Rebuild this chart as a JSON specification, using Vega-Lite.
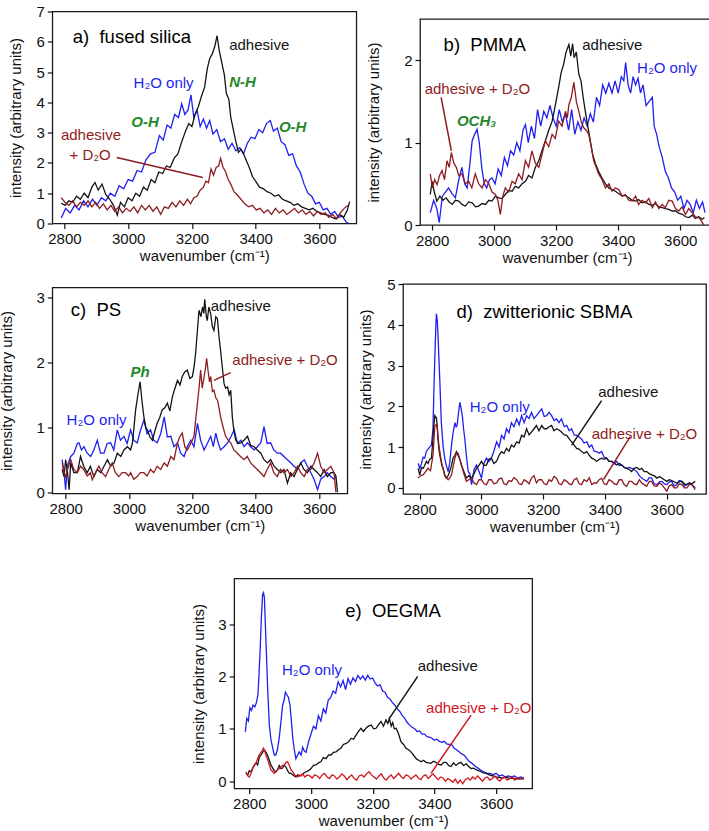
{
"$schema": "https://vega.github.io/schema/vega-lite/v6.json",
"background": "white",
"padding": {"left": -1, "top": 3.5, "right": 0, "bottom": 0},
"config": {
  "view": {"stroke": "#1a1a1a", "strokeWidth": 1.3},
  "axis": {"domain": false, "grid": false, "tickSize": 5, "tickColor": "#111", "tickWidth": 1.2, "labelFont": "Liberation Sans", "labelFontSize": 15, "labelColor": "#111", "labelPadding": 3, "titleFont": "Liberation Sans", "titleFontSize": 15, "titleFontWeight": "normal", "titleColor": "#111", "labelFlush": false, "labelOverlap": false, "format": "d"},
  "axisX": {"titlePadding": 2},
  "text": {"font": "Liberation Sans", "fontSize": 15, "align": "left", "baseline": "middle"}
},
"datasets": {
"T": [
{"p":"a","s":"T","t":"a)\u00a0\u00a0fused silica","x":2826,"y":6.16},
{"p":"a","s":"K","t":"adhesive","x":3317,"y":5.89},
{"p":"a","s":"B","t":"H₂O only","x":3017,"y":4.63},
{"p":"a","s":"G","t":"N-H","x":3317,"y":4.68},
{"p":"a","s":"G","t":"O-H","x":3010,"y":3.36},
{"p":"a","s":"G","t":"O-H","x":3473,"y":3.2},
{"p":"a","s":"R","t":"adhesive","x":2789,"y":2.92},
{"p":"a","s":"R","t":"+ D₂O","x":2816,"y":2.26},
{"p":"b","s":"T","t":"b)\u00a0\u00a0PMMA","x":2837,"y":2.19},
{"p":"b","s":"K","t":"adhesive","x":3284,"y":2.19},
{"p":"b","s":"B","t":"H₂O only","x":3461,"y":1.91},
{"p":"b","s":"R","t":"adhesive + D₂O","x":2776,"y":1.65},
{"p":"b","s":"G","t":"OCH₃","x":2880,"y":1.26},
{"p":"c","s":"T","t":"c)\u00a0\u00a0PS","x":2816,"y":2.8},
{"p":"c","s":"K","t":"adhesive","x":3258,"y":2.87},
{"p":"c","s":"R","t":"adhesive + D₂O","x":3326,"y":2.03},
{"p":"c","s":"G","t":"Ph","x":3005,"y":1.85},
{"p":"c","s":"B","t":"H₂O only","x":2803,"y":1.11},
{"p":"d","s":"T","t":"d)\u00a0\u00a0zwitterionic SBMA","x":2919,"y":4.31},
{"p":"d","s":"K","t":"adhesive","x":3378,"y":2.34},
{"p":"d","s":"B","t":"H₂O only","x":2962,"y":1.98},
{"p":"d","s":"R","t":"adhesive + D₂O","x":3357,"y":1.33},
{"p":"e","s":"T","t":"e)\u00a0\u00a0OEGMA","x":3111,"y":3.24},
{"p":"e","s":"B","t":"H₂O only","x":2906,"y":2.13},
{"p":"e","s":"K","t":"adhesive","x":3346,"y":2.19},
{"p":"e","s":"E","t":"adhesive + D₂O","x":3373,"y":1.39}
],
"R": [
{"p":"a","s":"R","x":2964,"y":2.18,"x2":3234,"y2":1.52},
{"p":"b","s":"R","x":2829,"y":1.55,"x2":2862,"y2":0.9},
{"p":"c","s":"R","x":3321,"y":1.84,"x2":3268,"y2":1.72},
{"p":"d","s":"K","x":3389,"y":2.14,"x2":3292,"y2":1.05},
{"p":"d","s":"R","x":3481,"y":1.25,"x2":3395,"y2":0.2},
{"p":"e","s":"K","x":3346,"y":2.0,"x2":3254,"y2":1.2},
{"p":"e","s":"E","x":3519,"y":1.26,"x2":3389,"y2":0.15}
],
"L": [
{"p":"a","s":"B","x":2790,"y":0.18},{"p":"a","s":"B","x":2804,"y":0.5},{"p":"a","s":"B","x":2818,"y":0.35},{"p":"a","s":"B","x":2832,"y":0.6},{"p":"a","s":"B","x":2846,"y":0.45},{"p":"a","s":"B","x":2860,"y":0.75},{"p":"a","s":"B","x":2874,"y":0.55},{"p":"a","s":"B","x":2888,"y":0.8},{"p":"a","s":"B","x":2902,"y":0.6},{"p":"a","s":"B","x":2916,"y":0.85},{"p":"a","s":"B","x":2930,"y":0.75},{"p":"a","s":"B","x":2944,"y":1.0},{"p":"a","s":"B","x":2958,"y":0.9},{"p":"a","s":"B","x":2972,"y":1.25},{"p":"a","s":"B","x":2986,"y":1.15},{"p":"a","s":"B","x":3000,"y":1.45},{"p":"a","s":"B","x":3014,"y":1.4},{"p":"a","s":"B","x":3028,"y":1.75},{"p":"a","s":"B","x":3042,"y":1.7},{"p":"a","s":"B","x":3056,"y":2.1},{"p":"a","s":"B","x":3070,"y":2.3},{"p":"a","s":"B","x":3084,"y":2.35},{"p":"a","s":"B","x":3098,"y":2.9},{"p":"a","s":"B","x":3110,"y":2.75},{"p":"a","s":"B","x":3122,"y":3.25},{"p":"a","s":"B","x":3134,"y":3.15},{"p":"a","s":"B","x":3146,"y":3.6},{"p":"a","s":"B","x":3158,"y":3.5},{"p":"a","s":"B","x":3168,"y":3.95},{"p":"a","s":"B","x":3178,"y":3.6},{"p":"a","s":"B","x":3188,"y":3.75},{"p":"a","s":"B","x":3197,"y":4.25},{"p":"a","s":"B","x":3206,"y":3.5},{"p":"a","s":"B","x":3216,"y":3.75},{"p":"a","s":"B","x":3226,"y":3.2},{"p":"a","s":"B","x":3236,"y":3.45},{"p":"a","s":"B","x":3246,"y":3.15},{"p":"a","s":"B","x":3256,"y":3.4},{"p":"a","s":"B","x":3266,"y":2.95},{"p":"a","s":"B","x":3278,"y":3.1},{"p":"a","s":"B","x":3290,"y":2.7},{"p":"a","s":"B","x":3302,"y":2.8},{"p":"a","s":"B","x":3314,"y":2.45},{"p":"a","s":"B","x":3326,"y":2.65},{"p":"a","s":"B","x":3338,"y":2.4},{"p":"a","s":"B","x":3350,"y":2.5},{"p":"a","s":"B","x":3362,"y":2.3},{"p":"a","s":"B","x":3374,"y":2.65},{"p":"a","s":"B","x":3386,"y":2.85},{"p":"a","s":"B","x":3398,"y":2.8},{"p":"a","s":"B","x":3410,"y":3.1},{"p":"a","s":"B","x":3422,"y":3.0},{"p":"a","s":"B","x":3434,"y":3.3},{"p":"a","s":"B","x":3446,"y":3.4},{"p":"a","s":"B","x":3456,"y":3.05},{"p":"a","s":"B","x":3468,"y":3.15},{"p":"a","s":"B","x":3480,"y":2.7},{"p":"a","s":"B","x":3492,"y":2.6},{"p":"a","s":"B","x":3504,"y":2.25},{"p":"a","s":"B","x":3516,"y":2.3},{"p":"a","s":"B","x":3528,"y":1.9},{"p":"a","s":"B","x":3540,"y":1.7},{"p":"a","s":"B","x":3552,"y":1.3},{"p":"a","s":"B","x":3564,"y":1.0},{"p":"a","s":"B","x":3576,"y":0.9},{"p":"a","s":"B","x":3588,"y":0.65},{"p":"a","s":"B","x":3600,"y":0.7},{"p":"a","s":"B","x":3612,"y":0.45},{"p":"a","s":"B","x":3624,"y":0.5},{"p":"a","s":"B","x":3636,"y":0.3},{"p":"a","s":"B","x":3648,"y":0.4},{"p":"a","s":"B","x":3660,"y":0.2},{"p":"a","s":"B","x":3672,"y":0.25},{"p":"a","s":"B","x":3684,"y":0.05},{"p":"a","s":"B","x":3692,"y":0.0},
{"p":"a","s":"K","x":2790,"y":0.67},{"p":"a","s":"K","x":2802,"y":0.6},{"p":"a","s":"K","x":2814,"y":0.75},{"p":"a","s":"K","x":2826,"y":0.7},{"p":"a","s":"K","x":2838,"y":0.9},{"p":"a","s":"K","x":2850,"y":0.8},{"p":"a","s":"K","x":2862,"y":1.0},{"p":"a","s":"K","x":2874,"y":0.85},{"p":"a","s":"K","x":2886,"y":1.2},{"p":"a","s":"K","x":2896,"y":1.35},{"p":"a","s":"K","x":2906,"y":1.1},{"p":"a","s":"K","x":2918,"y":1.3},{"p":"a","s":"K","x":2930,"y":0.95},{"p":"a","s":"K","x":2942,"y":0.8},{"p":"a","s":"K","x":2954,"y":0.6},{"p":"a","s":"K","x":2966,"y":0.28},{"p":"a","s":"K","x":2976,"y":0.7},{"p":"a","s":"K","x":2988,"y":0.55},{"p":"a","s":"K","x":3000,"y":0.85},{"p":"a","s":"K","x":3012,"y":0.75},{"p":"a","s":"K","x":3024,"y":1.0},{"p":"a","s":"K","x":3036,"y":0.9},{"p":"a","s":"K","x":3048,"y":1.2},{"p":"a","s":"K","x":3060,"y":1.1},{"p":"a","s":"K","x":3072,"y":1.45},{"p":"a","s":"K","x":3084,"y":1.35},{"p":"a","s":"K","x":3096,"y":1.7},{"p":"a","s":"K","x":3108,"y":1.65},{"p":"a","s":"K","x":3120,"y":1.9},{"p":"a","s":"K","x":3132,"y":1.85},{"p":"a","s":"K","x":3144,"y":2.15},{"p":"a","s":"K","x":3156,"y":2.3},{"p":"a","s":"K","x":3168,"y":2.7},{"p":"a","s":"K","x":3180,"y":3.05},{"p":"a","s":"K","x":3190,"y":3.3},{"p":"a","s":"K","x":3200,"y":3.2},{"p":"a","s":"K","x":3210,"y":3.6},{"p":"a","s":"K","x":3220,"y":3.85},{"p":"a","s":"K","x":3230,"y":4.2},{"p":"a","s":"K","x":3240,"y":4.5},{"p":"a","s":"K","x":3248,"y":5.1},{"p":"a","s":"K","x":3256,"y":5.45},{"p":"a","s":"K","x":3264,"y":5.6},{"p":"a","s":"K","x":3272,"y":5.85},{"p":"a","s":"K","x":3279,"y":6.2},{"p":"a","s":"K","x":3286,"y":5.7},{"p":"a","s":"K","x":3294,"y":5.3},{"p":"a","s":"K","x":3302,"y":4.9},{"p":"a","s":"K","x":3308,"y":4.3},{"p":"a","s":"K","x":3316,"y":4.1},{"p":"a","s":"K","x":3322,"y":3.5},{"p":"a","s":"K","x":3330,"y":3.1},{"p":"a","s":"K","x":3338,"y":2.7},{"p":"a","s":"K","x":3346,"y":2.35},{"p":"a","s":"K","x":3354,"y":2.45},{"p":"a","s":"K","x":3362,"y":2.3},{"p":"a","s":"K","x":3370,"y":2.1},{"p":"a","s":"K","x":3380,"y":1.85},{"p":"a","s":"K","x":3390,"y":1.55},{"p":"a","s":"K","x":3400,"y":1.4},{"p":"a","s":"K","x":3412,"y":1.2},{"p":"a","s":"K","x":3424,"y":1.15},{"p":"a","s":"K","x":3436,"y":1.05},{"p":"a","s":"K","x":3448,"y":1.0},{"p":"a","s":"K","x":3460,"y":0.9},{"p":"a","s":"K","x":3472,"y":0.95},{"p":"a","s":"K","x":3484,"y":0.8},{"p":"a","s":"K","x":3496,"y":0.75},{"p":"a","s":"K","x":3508,"y":0.7},{"p":"a","s":"K","x":3520,"y":0.6},{"p":"a","s":"K","x":3532,"y":0.65},{"p":"a","s":"K","x":3544,"y":0.55},{"p":"a","s":"K","x":3556,"y":0.5},{"p":"a","s":"K","x":3568,"y":0.45},{"p":"a","s":"K","x":3580,"y":0.5},{"p":"a","s":"K","x":3592,"y":0.4},{"p":"a","s":"K","x":3604,"y":0.35},{"p":"a","s":"K","x":3616,"y":0.3},{"p":"a","s":"K","x":3628,"y":0.28},{"p":"a","s":"K","x":3640,"y":0.2},{"p":"a","s":"K","x":3652,"y":0.15},{"p":"a","s":"K","x":3664,"y":0.3},{"p":"a","s":"K","x":3676,"y":0.2},{"p":"a","s":"K","x":3688,"y":0.45},{"p":"a","s":"K","x":3695,"y":0.72},
{"p":"a","s":"R","x":2790,"y":0.85},{"p":"a","s":"R","x":2802,"y":0.7},{"p":"a","s":"R","x":2814,"y":0.6},{"p":"a","s":"R","x":2826,"y":0.75},{"p":"a","s":"R","x":2838,"y":0.55},{"p":"a","s":"R","x":2850,"y":0.7},{"p":"a","s":"R","x":2862,"y":0.6},{"p":"a","s":"R","x":2874,"y":0.75},{"p":"a","s":"R","x":2886,"y":0.55},{"p":"a","s":"R","x":2898,"y":0.7},{"p":"a","s":"R","x":2910,"y":0.5},{"p":"a","s":"R","x":2922,"y":0.65},{"p":"a","s":"R","x":2934,"y":0.45},{"p":"a","s":"R","x":2946,"y":0.6},{"p":"a","s":"R","x":2958,"y":0.4},{"p":"a","s":"R","x":2970,"y":0.55},{"p":"a","s":"R","x":2982,"y":0.35},{"p":"a","s":"R","x":2994,"y":0.5},{"p":"a","s":"R","x":3006,"y":0.4},{"p":"a","s":"R","x":3018,"y":0.55},{"p":"a","s":"R","x":3030,"y":0.35},{"p":"a","s":"R","x":3042,"y":0.6},{"p":"a","s":"R","x":3054,"y":0.45},{"p":"a","s":"R","x":3066,"y":0.6},{"p":"a","s":"R","x":3078,"y":0.4},{"p":"a","s":"R","x":3090,"y":0.55},{"p":"a","s":"R","x":3102,"y":0.3},{"p":"a","s":"R","x":3114,"y":0.55},{"p":"a","s":"R","x":3126,"y":0.5},{"p":"a","s":"R","x":3138,"y":0.7},{"p":"a","s":"R","x":3150,"y":0.55},{"p":"a","s":"R","x":3162,"y":0.75},{"p":"a","s":"R","x":3174,"y":0.6},{"p":"a","s":"R","x":3186,"y":0.8},{"p":"a","s":"R","x":3196,"y":0.65},{"p":"a","s":"R","x":3206,"y":0.85},{"p":"a","s":"R","x":3216,"y":0.9},{"p":"a","s":"R","x":3226,"y":1.1},{"p":"a","s":"R","x":3236,"y":1.2},{"p":"a","s":"R","x":3244,"y":1.4},{"p":"a","s":"R","x":3252,"y":1.35},{"p":"a","s":"R","x":3260,"y":1.8},{"p":"a","s":"R","x":3268,"y":1.6},{"p":"a","s":"R","x":3276,"y":1.85},{"p":"a","s":"R","x":3284,"y":1.9},{"p":"a","s":"R","x":3290,"y":2.15},{"p":"a","s":"R","x":3298,"y":1.85},{"p":"a","s":"R","x":3306,"y":1.7},{"p":"a","s":"R","x":3314,"y":1.45},{"p":"a","s":"R","x":3322,"y":1.3},{"p":"a","s":"R","x":3332,"y":1.05},{"p":"a","s":"R","x":3342,"y":0.95},{"p":"a","s":"R","x":3354,"y":0.8},{"p":"a","s":"R","x":3366,"y":0.65},{"p":"a","s":"R","x":3378,"y":0.55},{"p":"a","s":"R","x":3390,"y":0.6},{"p":"a","s":"R","x":3402,"y":0.45},{"p":"a","s":"R","x":3414,"y":0.5},{"p":"a","s":"R","x":3426,"y":0.35},{"p":"a","s":"R","x":3438,"y":0.45},{"p":"a","s":"R","x":3450,"y":0.3},{"p":"a","s":"R","x":3462,"y":0.5},{"p":"a","s":"R","x":3474,"y":0.35},{"p":"a","s":"R","x":3486,"y":0.45},{"p":"a","s":"R","x":3498,"y":0.3},{"p":"a","s":"R","x":3510,"y":0.4},{"p":"a","s":"R","x":3522,"y":0.5},{"p":"a","s":"R","x":3534,"y":0.35},{"p":"a","s":"R","x":3546,"y":0.45},{"p":"a","s":"R","x":3558,"y":0.3},{"p":"a","s":"R","x":3570,"y":0.4},{"p":"a","s":"R","x":3582,"y":0.25},{"p":"a","s":"R","x":3594,"y":0.4},{"p":"a","s":"R","x":3606,"y":0.3},{"p":"a","s":"R","x":3618,"y":0.35},{"p":"a","s":"R","x":3630,"y":0.2},{"p":"a","s":"R","x":3642,"y":0.3},{"p":"a","s":"R","x":3654,"y":0.15},{"p":"a","s":"R","x":3666,"y":0.35},{"p":"a","s":"R","x":3678,"y":0.5},{"p":"a","s":"R","x":3690,"y":0.6},
{"p":"b","s":"B","x":2794,"y":0.15},{"p":"b","s":"B","x":2805,"y":0.3},{"p":"b","s":"B","x":2815,"y":0.2},{"p":"b","s":"B","x":2823,"y":0.03},{"p":"b","s":"B","x":2833,"y":0.35},{"p":"b","s":"B","x":2843,"y":0.4},{"p":"b","s":"B","x":2853,"y":0.45},{"p":"b","s":"B","x":2864,"y":0.38},{"p":"b","s":"B","x":2875,"y":0.33},{"p":"b","s":"B","x":2886,"y":0.55},{"p":"b","s":"B","x":2896,"y":0.7},{"p":"b","s":"B","x":2905,"y":0.5},{"p":"b","s":"B","x":2913,"y":0.45},{"p":"b","s":"B","x":2922,"y":0.75},{"p":"b","s":"B","x":2929,"y":1.02},{"p":"b","s":"B","x":2937,"y":1.1},{"p":"b","s":"B","x":2945,"y":1.16},{"p":"b","s":"B","x":2952,"y":1.0},{"p":"b","s":"B","x":2960,"y":0.7},{"p":"b","s":"B","x":2968,"y":0.5},{"p":"b","s":"B","x":2976,"y":0.45},{"p":"b","s":"B","x":2985,"y":0.55},{"p":"b","s":"B","x":2993,"y":0.57},{"p":"b","s":"B","x":3003,"y":0.5},{"p":"b","s":"B","x":3013,"y":0.68},{"p":"b","s":"B","x":3023,"y":0.6},{"p":"b","s":"B","x":3033,"y":0.82},{"p":"b","s":"B","x":3043,"y":0.72},{"p":"b","s":"B","x":3053,"y":0.9},{"p":"b","s":"B","x":3063,"y":0.85},{"p":"b","s":"B","x":3073,"y":1.0},{"p":"b","s":"B","x":3083,"y":0.9},{"p":"b","s":"B","x":3093,"y":1.15},{"p":"b","s":"B","x":3101,"y":1.22},{"p":"b","s":"B","x":3110,"y":1.0},{"p":"b","s":"B","x":3120,"y":1.2},{"p":"b","s":"B","x":3130,"y":1.05},{"p":"b","s":"B","x":3140,"y":1.4},{"p":"b","s":"B","x":3150,"y":1.2},{"p":"b","s":"B","x":3160,"y":1.38},{"p":"b","s":"B","x":3170,"y":1.3},{"p":"b","s":"B","x":3180,"y":1.45},{"p":"b","s":"B","x":3190,"y":1.3},{"p":"b","s":"B","x":3200,"y":1.2},{"p":"b","s":"B","x":3210,"y":1.4},{"p":"b","s":"B","x":3220,"y":1.25},{"p":"b","s":"B","x":3230,"y":1.35},{"p":"b","s":"B","x":3240,"y":1.15},{"p":"b","s":"B","x":3250,"y":1.4},{"p":"b","s":"B","x":3260,"y":1.1},{"p":"b","s":"B","x":3270,"y":1.25},{"p":"b","s":"B","x":3280,"y":1.15},{"p":"b","s":"B","x":3290,"y":1.3},{"p":"b","s":"B","x":3300,"y":1.2},{"p":"b","s":"B","x":3310,"y":1.35},{"p":"b","s":"B","x":3320,"y":1.25},{"p":"b","s":"B","x":3330,"y":1.55},{"p":"b","s":"B","x":3340,"y":1.45},{"p":"b","s":"B","x":3350,"y":1.7},{"p":"b","s":"B","x":3360,"y":1.6},{"p":"b","s":"B","x":3370,"y":1.72},{"p":"b","s":"B","x":3380,"y":1.6},{"p":"b","s":"B","x":3390,"y":1.75},{"p":"b","s":"B","x":3400,"y":1.6},{"p":"b","s":"B","x":3410,"y":1.8},{"p":"b","s":"B","x":3418,"y":1.75},{"p":"b","s":"B","x":3424,"y":1.97},{"p":"b","s":"B","x":3432,"y":1.7},{"p":"b","s":"B","x":3440,"y":1.6},{"p":"b","s":"B","x":3448,"y":1.8},{"p":"b","s":"B","x":3456,"y":1.7},{"p":"b","s":"B","x":3464,"y":1.78},{"p":"b","s":"B","x":3472,"y":1.6},{"p":"b","s":"B","x":3480,"y":1.7},{"p":"b","s":"B","x":3490,"y":1.45},{"p":"b","s":"B","x":3500,"y":1.5},{"p":"b","s":"B","x":3510,"y":1.55},{"p":"b","s":"B","x":3516,"y":1.2},{"p":"b","s":"B","x":3524,"y":1.1},{"p":"b","s":"B","x":3532,"y":0.95},{"p":"b","s":"B","x":3542,"y":0.82},{"p":"b","s":"B","x":3552,"y":0.65},{"p":"b","s":"B","x":3562,"y":0.57},{"p":"b","s":"B","x":3572,"y":0.45},{"p":"b","s":"B","x":3582,"y":0.4},{"p":"b","s":"B","x":3592,"y":0.3},{"p":"b","s":"B","x":3602,"y":0.35},{"p":"b","s":"B","x":3612,"y":0.2},{"p":"b","s":"B","x":3622,"y":0.3},{"p":"b","s":"B","x":3632,"y":0.25},{"p":"b","s":"B","x":3642,"y":0.15},{"p":"b","s":"B","x":3652,"y":0.3},{"p":"b","s":"B","x":3662,"y":0.2},{"p":"b","s":"B","x":3672,"y":0.28},{"p":"b","s":"B","x":3680,"y":0.15},
{"p":"b","s":"K","x":2794,"y":0.37},{"p":"b","s":"K","x":2800,"y":0.53},{"p":"b","s":"K","x":2807,"y":0.4},{"p":"b","s":"K","x":2815,"y":0.29},{"p":"b","s":"K","x":2825,"y":0.35},{"p":"b","s":"K","x":2835,"y":0.3},{"p":"b","s":"K","x":2845,"y":0.33},{"p":"b","s":"K","x":2855,"y":0.28},{"p":"b","s":"K","x":2865,"y":0.25},{"p":"b","s":"K","x":2875,"y":0.3},{"p":"b","s":"K","x":2886,"y":0.29},{"p":"b","s":"K","x":2896,"y":0.25},{"p":"b","s":"K","x":2907,"y":0.23},{"p":"b","s":"K","x":2918,"y":0.28},{"p":"b","s":"K","x":2929,"y":0.27},{"p":"b","s":"K","x":2940,"y":0.22},{"p":"b","s":"K","x":2950,"y":0.23},{"p":"b","s":"K","x":2961,"y":0.26},{"p":"b","s":"K","x":2972,"y":0.25},{"p":"b","s":"K","x":2983,"y":0.3},{"p":"b","s":"K","x":2993,"y":0.29},{"p":"b","s":"K","x":3004,"y":0.35},{"p":"b","s":"K","x":3015,"y":0.33},{"p":"b","s":"K","x":3025,"y":0.32},{"p":"b","s":"K","x":3036,"y":0.37},{"p":"b","s":"K","x":3047,"y":0.42},{"p":"b","s":"K","x":3058,"y":0.41},{"p":"b","s":"K","x":3068,"y":0.47},{"p":"b","s":"K","x":3079,"y":0.45},{"p":"b","s":"K","x":3090,"y":0.5},{"p":"b","s":"K","x":3101,"y":0.53},{"p":"b","s":"K","x":3111,"y":0.6},{"p":"b","s":"K","x":3122,"y":0.57},{"p":"b","s":"K","x":3133,"y":0.7},{"p":"b","s":"K","x":3144,"y":0.78},{"p":"b","s":"K","x":3154,"y":0.9},{"p":"b","s":"K","x":3165,"y":1.02},{"p":"b","s":"K","x":3176,"y":1.15},{"p":"b","s":"K","x":3187,"y":1.26},{"p":"b","s":"K","x":3197,"y":1.45},{"p":"b","s":"K","x":3208,"y":1.67},{"p":"b","s":"K","x":3216,"y":1.85},{"p":"b","s":"K","x":3224,"y":1.95},{"p":"b","s":"K","x":3232,"y":2.1},{"p":"b","s":"K","x":3241,"y":2.19},{"p":"b","s":"K","x":3247,"y":2.05},{"p":"b","s":"K","x":3253,"y":2.2},{"p":"b","s":"K","x":3258,"y":2.03},{"p":"b","s":"K","x":3265,"y":2.1},{"p":"b","s":"K","x":3273,"y":1.83},{"p":"b","s":"K","x":3280,"y":1.75},{"p":"b","s":"K","x":3287,"y":1.55},{"p":"b","s":"K","x":3294,"y":1.38},{"p":"b","s":"K","x":3302,"y":1.2},{"p":"b","s":"K","x":3310,"y":1.02},{"p":"b","s":"K","x":3318,"y":0.85},{"p":"b","s":"K","x":3327,"y":0.74},{"p":"b","s":"K","x":3337,"y":0.65},{"p":"b","s":"K","x":3348,"y":0.57},{"p":"b","s":"K","x":3359,"y":0.5},{"p":"b","s":"K","x":3370,"y":0.45},{"p":"b","s":"K","x":3380,"y":0.43},{"p":"b","s":"K","x":3391,"y":0.41},{"p":"b","s":"K","x":3402,"y":0.38},{"p":"b","s":"K","x":3413,"y":0.35},{"p":"b","s":"K","x":3423,"y":0.36},{"p":"b","s":"K","x":3434,"y":0.33},{"p":"b","s":"K","x":3445,"y":0.3},{"p":"b","s":"K","x":3456,"y":0.29},{"p":"b","s":"K","x":3466,"y":0.31},{"p":"b","s":"K","x":3477,"y":0.27},{"p":"b","s":"K","x":3488,"y":0.28},{"p":"b","s":"K","x":3499,"y":0.25},{"p":"b","s":"K","x":3510,"y":0.24},{"p":"b","s":"K","x":3520,"y":0.26},{"p":"b","s":"K","x":3531,"y":0.22},{"p":"b","s":"K","x":3542,"y":0.21},{"p":"b","s":"K","x":3552,"y":0.2},{"p":"b","s":"K","x":3563,"y":0.19},{"p":"b","s":"K","x":3574,"y":0.17},{"p":"b","s":"K","x":3585,"y":0.17},{"p":"b","s":"K","x":3596,"y":0.14},{"p":"b","s":"K","x":3607,"y":0.13},{"p":"b","s":"K","x":3617,"y":0.1},{"p":"b","s":"K","x":3628,"y":0.09},{"p":"b","s":"K","x":3639,"y":0.12},{"p":"b","s":"K","x":3649,"y":0.08},{"p":"b","s":"K","x":3660,"y":0.1},{"p":"b","s":"K","x":3671,"y":0.07},{"p":"b","s":"K","x":3678,"y":0.09},
{"p":"b","s":"R","x":2794,"y":0.62},{"p":"b","s":"R","x":2801,"y":0.45},{"p":"b","s":"R","x":2808,"y":0.55},{"p":"b","s":"R","x":2816,"y":0.49},{"p":"b","s":"R","x":2824,"y":0.6},{"p":"b","s":"R","x":2832,"y":0.66},{"p":"b","s":"R","x":2840,"y":0.55},{"p":"b","s":"R","x":2848,"y":0.78},{"p":"b","s":"R","x":2855,"y":0.7},{"p":"b","s":"R","x":2862,"y":0.88},{"p":"b","s":"R","x":2870,"y":0.75},{"p":"b","s":"R","x":2878,"y":0.7},{"p":"b","s":"R","x":2886,"y":0.6},{"p":"b","s":"R","x":2896,"y":0.62},{"p":"b","s":"R","x":2907,"y":0.5},{"p":"b","s":"R","x":2918,"y":0.53},{"p":"b","s":"R","x":2928,"y":0.45},{"p":"b","s":"R","x":2939,"y":0.62},{"p":"b","s":"R","x":2950,"y":0.5},{"p":"b","s":"R","x":2961,"y":0.45},{"p":"b","s":"R","x":2972,"y":0.55},{"p":"b","s":"R","x":2983,"y":0.5},{"p":"b","s":"R","x":2993,"y":0.4},{"p":"b","s":"R","x":3004,"y":0.37},{"p":"b","s":"R","x":3012,"y":0.3},{"p":"b","s":"R","x":3020,"y":0.13},{"p":"b","s":"R","x":3028,"y":0.35},{"p":"b","s":"R","x":3036,"y":0.45},{"p":"b","s":"R","x":3047,"y":0.4},{"p":"b","s":"R","x":3058,"y":0.53},{"p":"b","s":"R","x":3068,"y":0.5},{"p":"b","s":"R","x":3079,"y":0.62},{"p":"b","s":"R","x":3090,"y":0.55},{"p":"b","s":"R","x":3101,"y":0.78},{"p":"b","s":"R","x":3111,"y":0.7},{"p":"b","s":"R","x":3122,"y":0.9},{"p":"b","s":"R","x":3133,"y":0.75},{"p":"b","s":"R","x":3144,"y":0.7},{"p":"b","s":"R","x":3154,"y":0.85},{"p":"b","s":"R","x":3165,"y":1.02},{"p":"b","s":"R","x":3176,"y":0.95},{"p":"b","s":"R","x":3187,"y":1.1},{"p":"b","s":"R","x":3197,"y":1.05},{"p":"b","s":"R","x":3208,"y":1.26},{"p":"b","s":"R","x":3219,"y":1.2},{"p":"b","s":"R","x":3230,"y":1.38},{"p":"b","s":"R","x":3236,"y":1.3},{"p":"b","s":"R","x":3241,"y":1.46},{"p":"b","s":"R","x":3249,"y":1.55},{"p":"b","s":"R","x":3257,"y":1.73},{"p":"b","s":"R","x":3265,"y":1.5},{"p":"b","s":"R","x":3273,"y":1.38},{"p":"b","s":"R","x":3281,"y":1.25},{"p":"b","s":"R","x":3289,"y":1.18},{"p":"b","s":"R","x":3297,"y":1.15},{"p":"b","s":"R","x":3305,"y":1.1},{"p":"b","s":"R","x":3313,"y":0.95},{"p":"b","s":"R","x":3321,"y":0.78},{"p":"b","s":"R","x":3329,"y":0.7},{"p":"b","s":"R","x":3337,"y":0.62},{"p":"b","s":"R","x":3348,"y":0.55},{"p":"b","s":"R","x":3359,"y":0.45},{"p":"b","s":"R","x":3370,"y":0.5},{"p":"b","s":"R","x":3380,"y":0.41},{"p":"b","s":"R","x":3391,"y":0.45},{"p":"b","s":"R","x":3402,"y":0.43},{"p":"b","s":"R","x":3413,"y":0.35},{"p":"b","s":"R","x":3423,"y":0.37},{"p":"b","s":"R","x":3434,"y":0.3},{"p":"b","s":"R","x":3445,"y":0.29},{"p":"b","s":"R","x":3456,"y":0.35},{"p":"b","s":"R","x":3466,"y":0.25},{"p":"b","s":"R","x":3477,"y":0.3},{"p":"b","s":"R","x":3488,"y":0.27},{"p":"b","s":"R","x":3499,"y":0.32},{"p":"b","s":"R","x":3510,"y":0.21},{"p":"b","s":"R","x":3520,"y":0.28},{"p":"b","s":"R","x":3531,"y":0.2},{"p":"b","s":"R","x":3542,"y":0.25},{"p":"b","s":"R","x":3552,"y":0.21},{"p":"b","s":"R","x":3563,"y":0.3},{"p":"b","s":"R","x":3574,"y":0.29},{"p":"b","s":"R","x":3585,"y":0.2},{"p":"b","s":"R","x":3595,"y":0.17},{"p":"b","s":"R","x":3606,"y":0.22},{"p":"b","s":"R","x":3617,"y":0.13},{"p":"b","s":"R","x":3628,"y":0.2},{"p":"b","s":"R","x":3638,"y":0.15},{"p":"b","s":"R","x":3649,"y":0.1},{"p":"b","s":"R","x":3660,"y":0.09},{"p":"b","s":"R","x":3668,"y":0.05},{"p":"b","s":"R","x":3676,"y":0.0},
{"p":"c","s":"B","x":2789,"y":0.5},{"p":"c","s":"B","x":2795,"y":0.3},{"p":"c","s":"B","x":2800,"y":0.04},{"p":"c","s":"B","x":2805,"y":0.4},{"p":"c","s":"B","x":2816,"y":0.55},{"p":"c","s":"B","x":2826,"y":0.6},{"p":"c","s":"B","x":2837,"y":0.75},{"p":"c","s":"B","x":2842,"y":0.76},{"p":"c","s":"B","x":2850,"y":0.65},{"p":"c","s":"B","x":2858,"y":0.7},{"p":"c","s":"B","x":2868,"y":0.6},{"p":"c","s":"B","x":2879,"y":0.55},{"p":"c","s":"B","x":2889,"y":0.65},{"p":"c","s":"B","x":2900,"y":0.8},{"p":"c","s":"B","x":2910,"y":0.6},{"p":"c","s":"B","x":2921,"y":0.6},{"p":"c","s":"B","x":2931,"y":0.75},{"p":"c","s":"B","x":2942,"y":0.76},{"p":"c","s":"B","x":2952,"y":0.65},{"p":"c","s":"B","x":2963,"y":0.96},{"p":"c","s":"B","x":2973,"y":0.8},{"p":"c","s":"B","x":2984,"y":0.86},{"p":"c","s":"B","x":2994,"y":0.75},{"p":"c","s":"B","x":3005,"y":0.96},{"p":"c","s":"B","x":3015,"y":0.8},{"p":"c","s":"B","x":3026,"y":0.76},{"p":"c","s":"B","x":3036,"y":0.95},{"p":"c","s":"B","x":3047,"y":1.11},{"p":"c","s":"B","x":3057,"y":0.9},{"p":"c","s":"B","x":3068,"y":0.96},{"p":"c","s":"B","x":3078,"y":0.8},{"p":"c","s":"B","x":3089,"y":0.76},{"p":"c","s":"B","x":3100,"y":0.9},{"p":"c","s":"B","x":3111,"y":1.16},{"p":"c","s":"B","x":3121,"y":0.85},{"p":"c","s":"B","x":3132,"y":0.86},{"p":"c","s":"B","x":3142,"y":0.7},{"p":"c","s":"B","x":3153,"y":0.76},{"p":"c","s":"B","x":3163,"y":0.6},{"p":"c","s":"B","x":3174,"y":0.55},{"p":"c","s":"B","x":3184,"y":0.7},{"p":"c","s":"B","x":3195,"y":0.8},{"p":"c","s":"B","x":3205,"y":0.7},{"p":"c","s":"B","x":3216,"y":1.06},{"p":"c","s":"B","x":3226,"y":0.8},{"p":"c","s":"B","x":3237,"y":0.65},{"p":"c","s":"B","x":3247,"y":0.75},{"p":"c","s":"B","x":3258,"y":0.86},{"p":"c","s":"B","x":3266,"y":0.7},{"p":"c","s":"B","x":3274,"y":0.91},{"p":"c","s":"B","x":3282,"y":0.75},{"p":"c","s":"B","x":3289,"y":0.65},{"p":"c","s":"B","x":3300,"y":0.7},{"p":"c","s":"B","x":3311,"y":0.76},{"p":"c","s":"B","x":3321,"y":0.85},{"p":"c","s":"B","x":3332,"y":0.96},{"p":"c","s":"B","x":3342,"y":0.75},{"p":"c","s":"B","x":3353,"y":0.8},{"p":"c","s":"B","x":3363,"y":0.7},{"p":"c","s":"B","x":3374,"y":0.76},{"p":"c","s":"B","x":3384,"y":0.7},{"p":"c","s":"B","x":3395,"y":0.65},{"p":"c","s":"B","x":3405,"y":0.7},{"p":"c","s":"B","x":3416,"y":0.76},{"p":"c","s":"B","x":3426,"y":1.01},{"p":"c","s":"B","x":3436,"y":0.75},{"p":"c","s":"B","x":3447,"y":0.76},{"p":"c","s":"B","x":3457,"y":0.65},{"p":"c","s":"B","x":3468,"y":0.6},{"p":"c","s":"B","x":3478,"y":0.6},{"p":"c","s":"B","x":3489,"y":0.55},{"p":"c","s":"B","x":3500,"y":0.5},{"p":"c","s":"B","x":3511,"y":0.45},{"p":"c","s":"B","x":3521,"y":0.4},{"p":"c","s":"B","x":3532,"y":0.35},{"p":"c","s":"B","x":3542,"y":0.45},{"p":"c","s":"B","x":3553,"y":0.5},{"p":"c","s":"B","x":3563,"y":0.4},{"p":"c","s":"B","x":3574,"y":0.3},{"p":"c","s":"B","x":3584,"y":0.2},{"p":"c","s":"B","x":3595,"y":0.04},{"p":"c","s":"B","x":3605,"y":0.2},{"p":"c","s":"B","x":3616,"y":0.24},{"p":"c","s":"B","x":3626,"y":0.3},{"p":"c","s":"B","x":3637,"y":0.24},{"p":"c","s":"B","x":3647,"y":0.2},{"p":"c","s":"B","x":3653,"y":0.24},
{"p":"c","s":"K","x":2789,"y":0.35},{"p":"c","s":"K","x":2795,"y":0.24},{"p":"c","s":"K","x":2800,"y":0.5},{"p":"c","s":"K","x":2806,"y":0.3},{"p":"c","s":"K","x":2811,"y":0.04},{"p":"c","s":"K","x":2816,"y":0.45},{"p":"c","s":"K","x":2826,"y":0.3},{"p":"c","s":"K","x":2837,"y":0.3},{"p":"c","s":"K","x":2847,"y":0.55},{"p":"c","s":"K","x":2857,"y":0.4},{"p":"c","s":"K","x":2868,"y":0.3},{"p":"c","s":"K","x":2878,"y":0.4},{"p":"c","s":"K","x":2889,"y":0.24},{"p":"c","s":"K","x":2900,"y":0.35},{"p":"c","s":"K","x":2911,"y":0.3},{"p":"c","s":"K","x":2921,"y":0.4},{"p":"c","s":"K","x":2932,"y":0.5},{"p":"c","s":"K","x":2942,"y":0.4},{"p":"c","s":"K","x":2953,"y":0.45},{"p":"c","s":"K","x":2963,"y":0.6},{"p":"c","s":"K","x":2974,"y":0.55},{"p":"c","s":"K","x":2984,"y":0.65},{"p":"c","s":"K","x":2995,"y":0.7},{"p":"c","s":"K","x":3005,"y":0.65},{"p":"c","s":"K","x":3011,"y":0.76},{"p":"c","s":"K","x":3021,"y":1.27},{"p":"c","s":"K","x":3028,"y":1.5},{"p":"c","s":"K","x":3035,"y":1.7},{"p":"c","s":"K","x":3041,"y":1.4},{"p":"c","s":"K","x":3047,"y":1.16},{"p":"c","s":"K","x":3053,"y":1.0},{"p":"c","s":"K","x":3058,"y":0.96},{"p":"c","s":"K","x":3066,"y":0.85},{"p":"c","s":"K","x":3074,"y":0.8},{"p":"c","s":"K","x":3082,"y":0.95},{"p":"c","s":"K","x":3089,"y":1.06},{"p":"c","s":"K","x":3097,"y":1.15},{"p":"c","s":"K","x":3105,"y":1.27},{"p":"c","s":"K","x":3113,"y":1.3},{"p":"c","s":"K","x":3121,"y":1.37},{"p":"c","s":"K","x":3129,"y":1.25},{"p":"c","s":"K","x":3137,"y":1.47},{"p":"c","s":"K","x":3145,"y":1.6},{"p":"c","s":"K","x":3153,"y":1.72},{"p":"c","s":"K","x":3161,"y":1.65},{"p":"c","s":"K","x":3168,"y":1.78},{"p":"c","s":"K","x":3176,"y":1.85},{"p":"c","s":"K","x":3184,"y":1.88},{"p":"c","s":"K","x":3192,"y":1.75},{"p":"c","s":"K","x":3200,"y":1.78},{"p":"c","s":"K","x":3206,"y":1.95},{"p":"c","s":"K","x":3211,"y":2.18},{"p":"c","s":"K","x":3216,"y":2.5},{"p":"c","s":"K","x":3221,"y":2.8},{"p":"c","s":"K","x":3227,"y":2.7},{"p":"c","s":"K","x":3232,"y":2.85},{"p":"c","s":"K","x":3236,"y":2.75},{"p":"c","s":"K","x":3239,"y":2.97},{"p":"c","s":"K","x":3244,"y":2.7},{"p":"c","s":"K","x":3247,"y":2.64},{"p":"c","s":"K","x":3252,"y":2.85},{"p":"c","s":"K","x":3258,"y":2.74},{"p":"c","s":"K","x":3263,"y":2.55},{"p":"c","s":"K","x":3268,"y":2.49},{"p":"c","s":"K","x":3274,"y":2.7},{"p":"c","s":"K","x":3279,"y":2.67},{"p":"c","s":"K","x":3284,"y":2.4},{"p":"c","s":"K","x":3289,"y":2.18},{"p":"c","s":"K","x":3295,"y":1.9},{"p":"c","s":"K","x":3300,"y":1.67},{"p":"c","s":"K","x":3305,"y":1.6},{"p":"c","s":"K","x":3311,"y":1.62},{"p":"c","s":"K","x":3316,"y":1.5},{"p":"c","s":"K","x":3321,"y":1.57},{"p":"c","s":"K","x":3326,"y":1.16},{"p":"c","s":"K","x":3331,"y":0.95},{"p":"c","s":"K","x":3337,"y":0.8},{"p":"c","s":"K","x":3345,"y":0.75},{"p":"c","s":"K","x":3353,"y":0.76},{"p":"c","s":"K","x":3363,"y":0.8},{"p":"c","s":"K","x":3374,"y":0.86},{"p":"c","s":"K","x":3384,"y":0.72},{"p":"c","s":"K","x":3395,"y":0.7},{"p":"c","s":"K","x":3405,"y":0.65},{"p":"c","s":"K","x":3416,"y":0.6},{"p":"c","s":"K","x":3426,"y":0.5},{"p":"c","s":"K","x":3437,"y":0.45},{"p":"c","s":"K","x":3447,"y":0.5},{"p":"c","s":"K","x":3458,"y":0.4},{"p":"c","s":"K","x":3468,"y":0.35},{"p":"c","s":"K","x":3479,"y":0.3},{"p":"c","s":"K","x":3489,"y":0.35},{"p":"c","s":"K","x":3500,"y":0.14},{"p":"c","s":"K","x":3510,"y":0.3},{"p":"c","s":"K","x":3521,"y":0.24},{"p":"c","s":"K","x":3531,"y":0.35},{"p":"c","s":"K","x":3542,"y":0.45},{"p":"c","s":"K","x":3552,"y":0.35},{"p":"c","s":"K","x":3563,"y":0.3},{"p":"c","s":"K","x":3574,"y":0.4},{"p":"c","s":"K","x":3584,"y":0.35},{"p":"c","s":"K","x":3595,"y":0.3},{"p":"c","s":"K","x":3605,"y":0.24},{"p":"c","s":"K","x":3616,"y":0.35},{"p":"c","s":"K","x":3626,"y":0.24},{"p":"c","s":"K","x":3637,"y":0.3},{"p":"c","s":"K","x":3647,"y":0.3},{"p":"c","s":"K","x":3653,"y":0.25},{"p":"c","s":"K","x":3658,"y":0.0},
{"p":"c","s":"R","x":2789,"y":0.45},{"p":"c","s":"R","x":2795,"y":0.3},{"p":"c","s":"R","x":2800,"y":0.24},{"p":"c","s":"R","x":2806,"y":0.35},{"p":"c","s":"R","x":2816,"y":0.5},{"p":"c","s":"R","x":2826,"y":0.35},{"p":"c","s":"R","x":2837,"y":0.3},{"p":"c","s":"R","x":2847,"y":0.4},{"p":"c","s":"R","x":2857,"y":0.35},{"p":"c","s":"R","x":2868,"y":0.25},{"p":"c","s":"R","x":2878,"y":0.3},{"p":"c","s":"R","x":2884,"y":0.19},{"p":"c","s":"R","x":2894,"y":0.3},{"p":"c","s":"R","x":2905,"y":0.4},{"p":"c","s":"R","x":2915,"y":0.3},{"p":"c","s":"R","x":2926,"y":0.24},{"p":"c","s":"R","x":2936,"y":0.35},{"p":"c","s":"R","x":2947,"y":0.45},{"p":"c","s":"R","x":2957,"y":0.3},{"p":"c","s":"R","x":2968,"y":0.24},{"p":"c","s":"R","x":2978,"y":0.3},{"p":"c","s":"R","x":2989,"y":0.3},{"p":"c","s":"R","x":2999,"y":0.25},{"p":"c","s":"R","x":3005,"y":0.3},{"p":"c","s":"R","x":3015,"y":0.2},{"p":"c","s":"R","x":3026,"y":0.24},{"p":"c","s":"R","x":3036,"y":0.3},{"p":"c","s":"R","x":3047,"y":0.3},{"p":"c","s":"R","x":3057,"y":0.25},{"p":"c","s":"R","x":3068,"y":0.35},{"p":"c","s":"R","x":3078,"y":0.3},{"p":"c","s":"R","x":3089,"y":0.4},{"p":"c","s":"R","x":3100,"y":0.35},{"p":"c","s":"R","x":3111,"y":0.45},{"p":"c","s":"R","x":3121,"y":0.4},{"p":"c","s":"R","x":3132,"y":0.55},{"p":"c","s":"R","x":3142,"y":0.5},{"p":"c","s":"R","x":3153,"y":0.76},{"p":"c","s":"R","x":3160,"y":0.85},{"p":"c","s":"R","x":3168,"y":0.91},{"p":"c","s":"R","x":3176,"y":0.7},{"p":"c","s":"R","x":3184,"y":0.65},{"p":"c","s":"R","x":3195,"y":0.75},{"p":"c","s":"R","x":3205,"y":0.86},{"p":"c","s":"R","x":3210,"y":1.1},{"p":"c","s":"R","x":3216,"y":1.37},{"p":"c","s":"R","x":3221,"y":1.6},{"p":"c","s":"R","x":3226,"y":1.88},{"p":"c","s":"R","x":3231,"y":1.6},{"p":"c","s":"R","x":3237,"y":1.78},{"p":"c","s":"R","x":3241,"y":1.9},{"p":"c","s":"R","x":3245,"y":2.06},{"p":"c","s":"R","x":3250,"y":1.85},{"p":"c","s":"R","x":3254,"y":1.7},{"p":"c","s":"R","x":3258,"y":1.78},{"p":"c","s":"R","x":3263,"y":1.55},{"p":"c","s":"R","x":3268,"y":1.57},{"p":"c","s":"R","x":3274,"y":1.45},{"p":"c","s":"R","x":3279,"y":1.42},{"p":"c","s":"R","x":3284,"y":1.3},{"p":"c","s":"R","x":3289,"y":1.16},{"p":"c","s":"R","x":3297,"y":1.0},{"p":"c","s":"R","x":3305,"y":0.86},{"p":"c","s":"R","x":3313,"y":0.8},{"p":"c","s":"R","x":3321,"y":0.76},{"p":"c","s":"R","x":3331,"y":0.65},{"p":"c","s":"R","x":3342,"y":0.6},{"p":"c","s":"R","x":3352,"y":0.55},{"p":"c","s":"R","x":3363,"y":0.5},{"p":"c","s":"R","x":3373,"y":0.55},{"p":"c","s":"R","x":3384,"y":0.45},{"p":"c","s":"R","x":3394,"y":0.4},{"p":"c","s":"R","x":3405,"y":0.35},{"p":"c","s":"R","x":3415,"y":0.3},{"p":"c","s":"R","x":3426,"y":0.24},{"p":"c","s":"R","x":3436,"y":0.35},{"p":"c","s":"R","x":3447,"y":0.45},{"p":"c","s":"R","x":3457,"y":0.3},{"p":"c","s":"R","x":3468,"y":0.24},{"p":"c","s":"R","x":3478,"y":0.35},{"p":"c","s":"R","x":3489,"y":0.3},{"p":"c","s":"R","x":3500,"y":0.35},{"p":"c","s":"R","x":3511,"y":0.24},{"p":"c","s":"R","x":3521,"y":0.3},{"p":"c","s":"R","x":3532,"y":0.4},{"p":"c","s":"R","x":3542,"y":0.3},{"p":"c","s":"R","x":3553,"y":0.24},{"p":"c","s":"R","x":3563,"y":0.35},{"p":"c","s":"R","x":3574,"y":0.35},{"p":"c","s":"R","x":3584,"y":0.45},{"p":"c","s":"R","x":3595,"y":0.6},{"p":"c","s":"R","x":3605,"y":0.4},{"p":"c","s":"R","x":3616,"y":0.3},{"p":"c","s":"R","x":3626,"y":0.35},{"p":"c","s":"R","x":3637,"y":0.4},{"p":"c","s":"R","x":3647,"y":0.3},{"p":"c","s":"R","x":3653,"y":0.0},
{"p":"d","s":"B","x":2795,"y":0.6},{"p":"d","s":"B","x":2800,"y":0.48},{"p":"d","s":"B","x":2806,"y":0.6},{"p":"d","s":"B","x":2811,"y":0.75},{"p":"d","s":"B","x":2816,"y":0.73},{"p":"d","s":"B","x":2822,"y":0.9},{"p":"d","s":"B","x":2827,"y":0.95},{"p":"d","s":"B","x":2832,"y":1.0},{"p":"d","s":"B","x":2838,"y":1.05},{"p":"d","s":"B","x":2843,"y":1.45},{"p":"d","s":"B","x":2846,"y":2.4},{"p":"d","s":"B","x":2849,"y":3.2},{"p":"d","s":"B","x":2852,"y":3.9},{"p":"d","s":"B","x":2854,"y":4.27},{"p":"d","s":"B","x":2857,"y":4.1},{"p":"d","s":"B","x":2859,"y":3.8},{"p":"d","s":"B","x":2862,"y":3.2},{"p":"d","s":"B","x":2865,"y":2.66},{"p":"d","s":"B","x":2870,"y":1.6},{"p":"d","s":"B","x":2876,"y":1.0},{"p":"d","s":"B","x":2881,"y":0.73},{"p":"d","s":"B","x":2886,"y":0.55},{"p":"d","s":"B","x":2892,"y":0.4},{"p":"d","s":"B","x":2897,"y":0.6},{"p":"d","s":"B","x":2903,"y":1.05},{"p":"d","s":"B","x":2908,"y":1.35},{"p":"d","s":"B","x":2914,"y":1.6},{"p":"d","s":"B","x":2918,"y":1.5},{"p":"d","s":"B","x":2921,"y":1.53},{"p":"d","s":"B","x":2925,"y":1.8},{"p":"d","s":"B","x":2930,"y":2.1},{"p":"d","s":"B","x":2934,"y":1.95},{"p":"d","s":"B","x":2938,"y":1.77},{"p":"d","s":"B","x":2942,"y":1.45},{"p":"d","s":"B","x":2946,"y":1.2},{"p":"d","s":"B","x":2951,"y":0.8},{"p":"d","s":"B","x":2957,"y":0.4},{"p":"d","s":"B","x":2962,"y":0.35},{"p":"d","s":"B","x":2968,"y":0.08},{"p":"d","s":"B","x":2976,"y":0.45},{"p":"d","s":"B","x":2984,"y":0.56},{"p":"d","s":"B","x":2992,"y":0.4},{"p":"d","s":"B","x":3000,"y":0.24},{"p":"d","s":"B","x":3008,"y":0.6},{"p":"d","s":"B","x":3016,"y":0.73},{"p":"d","s":"B","x":3024,"y":0.65},{"p":"d","s":"B","x":3032,"y":0.73},{"p":"d","s":"B","x":3040,"y":0.9},{"p":"d","s":"B","x":3049,"y":1.13},{"p":"d","s":"B","x":3057,"y":1.0},{"p":"d","s":"B","x":3065,"y":1.29},{"p":"d","s":"B","x":3073,"y":1.2},{"p":"d","s":"B","x":3081,"y":1.45},{"p":"d","s":"B","x":3089,"y":1.35},{"p":"d","s":"B","x":3097,"y":1.6},{"p":"d","s":"B","x":3105,"y":1.5},{"p":"d","s":"B","x":3114,"y":1.69},{"p":"d","s":"B","x":3122,"y":1.55},{"p":"d","s":"B","x":3130,"y":1.77},{"p":"d","s":"B","x":3138,"y":1.6},{"p":"d","s":"B","x":3146,"y":1.77},{"p":"d","s":"B","x":3154,"y":1.7},{"p":"d","s":"B","x":3162,"y":1.85},{"p":"d","s":"B","x":3170,"y":1.7},{"p":"d","s":"B","x":3178,"y":1.77},{"p":"d","s":"B","x":3186,"y":1.85},{"p":"d","s":"B","x":3195,"y":1.94},{"p":"d","s":"B","x":3203,"y":1.75},{"p":"d","s":"B","x":3211,"y":1.77},{"p":"d","s":"B","x":3219,"y":1.85},{"p":"d","s":"B","x":3227,"y":1.77},{"p":"d","s":"B","x":3235,"y":1.65},{"p":"d","s":"B","x":3243,"y":1.69},{"p":"d","s":"B","x":3251,"y":1.6},{"p":"d","s":"B","x":3259,"y":1.69},{"p":"d","s":"B","x":3268,"y":1.5},{"p":"d","s":"B","x":3276,"y":1.53},{"p":"d","s":"B","x":3284,"y":1.4},{"p":"d","s":"B","x":3292,"y":1.45},{"p":"d","s":"B","x":3300,"y":1.3},{"p":"d","s":"B","x":3308,"y":1.29},{"p":"d","s":"B","x":3316,"y":1.25},{"p":"d","s":"B","x":3324,"y":1.2},{"p":"d","s":"B","x":3332,"y":1.1},{"p":"d","s":"B","x":3341,"y":1.13},{"p":"d","s":"B","x":3349,"y":1.0},{"p":"d","s":"B","x":3357,"y":1.05},{"p":"d","s":"B","x":3365,"y":0.9},{"p":"d","s":"B","x":3373,"y":0.89},{"p":"d","s":"B","x":3381,"y":0.85},{"p":"d","s":"B","x":3389,"y":0.89},{"p":"d","s":"B","x":3397,"y":0.75},{"p":"d","s":"B","x":3405,"y":0.73},{"p":"d","s":"B","x":3413,"y":0.65},{"p":"d","s":"B","x":3422,"y":0.65},{"p":"d","s":"B","x":3430,"y":0.6},{"p":"d","s":"B","x":3438,"y":0.65},{"p":"d","s":"B","x":3446,"y":0.55},{"p":"d","s":"B","x":3454,"y":0.56},{"p":"d","s":"B","x":3462,"y":0.5},{"p":"d","s":"B","x":3470,"y":0.48},{"p":"d","s":"B","x":3478,"y":0.5},{"p":"d","s":"B","x":3486,"y":0.48},{"p":"d","s":"B","x":3494,"y":0.45},{"p":"d","s":"B","x":3503,"y":0.4},{"p":"d","s":"B","x":3511,"y":0.3},{"p":"d","s":"B","x":3519,"y":0.24},{"p":"d","s":"B","x":3527,"y":0.2},{"p":"d","s":"B","x":3535,"y":0.16},{"p":"d","s":"B","x":3543,"y":0.25},{"p":"d","s":"B","x":3551,"y":0.24},{"p":"d","s":"B","x":3559,"y":0.1},{"p":"d","s":"B","x":3568,"y":0.08},{"p":"d","s":"B","x":3576,"y":0.15},{"p":"d","s":"B","x":3584,"y":0.16},{"p":"d","s":"B","x":3592,"y":0.1},{"p":"d","s":"B","x":3600,"y":0.08},{"p":"d","s":"B","x":3608,"y":0.15},{"p":"d","s":"B","x":3616,"y":0.16},{"p":"d","s":"B","x":3624,"y":0.05},{"p":"d","s":"B","x":3632,"y":0.08},{"p":"d","s":"B","x":3640,"y":0.18},{"p":"d","s":"B","x":3649,"y":0.16},{"p":"d","s":"B","x":3657,"y":0.05},{"p":"d","s":"B","x":3665,"y":0.08},{"p":"d","s":"B","x":3673,"y":0.12},{"p":"d","s":"B","x":3681,"y":0.08},{"p":"d","s":"B","x":3692,"y":0.0},
{"p":"d","s":"K","x":2795,"y":0.48},{"p":"d","s":"K","x":2800,"y":0.32},{"p":"d","s":"K","x":2806,"y":0.5},{"p":"d","s":"K","x":2811,"y":0.48},{"p":"d","s":"K","x":2816,"y":0.55},{"p":"d","s":"K","x":2822,"y":0.65},{"p":"d","s":"K","x":2827,"y":0.6},{"p":"d","s":"K","x":2832,"y":0.7},{"p":"d","s":"K","x":2838,"y":0.73},{"p":"d","s":"K","x":2843,"y":1.2},{"p":"d","s":"K","x":2846,"y":1.55},{"p":"d","s":"K","x":2849,"y":1.77},{"p":"d","s":"K","x":2852,"y":1.73},{"p":"d","s":"K","x":2854,"y":1.73},{"p":"d","s":"K","x":2857,"y":1.5},{"p":"d","s":"K","x":2859,"y":1.2},{"p":"d","s":"K","x":2863,"y":0.9},{"p":"d","s":"K","x":2867,"y":0.73},{"p":"d","s":"K","x":2872,"y":0.55},{"p":"d","s":"K","x":2876,"y":0.48},{"p":"d","s":"K","x":2881,"y":0.3},{"p":"d","s":"K","x":2886,"y":0.24},{"p":"d","s":"K","x":2892,"y":0.3},{"p":"d","s":"K","x":2897,"y":0.4},{"p":"d","s":"K","x":2903,"y":0.55},{"p":"d","s":"K","x":2908,"y":0.73},{"p":"d","s":"K","x":2914,"y":0.8},{"p":"d","s":"K","x":2919,"y":0.89},{"p":"d","s":"K","x":2924,"y":0.8},{"p":"d","s":"K","x":2928,"y":0.73},{"p":"d","s":"K","x":2932,"y":0.65},{"p":"d","s":"K","x":2935,"y":0.56},{"p":"d","s":"K","x":2943,"y":0.4},{"p":"d","s":"K","x":2951,"y":0.24},{"p":"d","s":"K","x":2959,"y":0.3},{"p":"d","s":"K","x":2968,"y":0.24},{"p":"d","s":"K","x":2976,"y":0.35},{"p":"d","s":"K","x":2984,"y":0.48},{"p":"d","s":"K","x":2992,"y":0.55},{"p":"d","s":"K","x":3000,"y":0.65},{"p":"d","s":"K","x":3008,"y":0.55},{"p":"d","s":"K","x":3016,"y":0.56},{"p":"d","s":"K","x":3024,"y":0.7},{"p":"d","s":"K","x":3032,"y":0.73},{"p":"d","s":"K","x":3040,"y":0.6},{"p":"d","s":"K","x":3049,"y":0.65},{"p":"d","s":"K","x":3057,"y":0.8},{"p":"d","s":"K","x":3065,"y":0.89},{"p":"d","s":"K","x":3073,"y":0.85},{"p":"d","s":"K","x":3081,"y":0.97},{"p":"d","s":"K","x":3089,"y":0.9},{"p":"d","s":"K","x":3097,"y":1.05},{"p":"d","s":"K","x":3105,"y":1.0},{"p":"d","s":"K","x":3114,"y":1.13},{"p":"d","s":"K","x":3122,"y":1.1},{"p":"d","s":"K","x":3130,"y":1.29},{"p":"d","s":"K","x":3138,"y":1.25},{"p":"d","s":"K","x":3146,"y":1.45},{"p":"d","s":"K","x":3154,"y":1.3},{"p":"d","s":"K","x":3162,"y":1.37},{"p":"d","s":"K","x":3170,"y":1.45},{"p":"d","s":"K","x":3178,"y":1.53},{"p":"d","s":"K","x":3186,"y":1.4},{"p":"d","s":"K","x":3195,"y":1.53},{"p":"d","s":"K","x":3203,"y":1.45},{"p":"d","s":"K","x":3211,"y":1.45},{"p":"d","s":"K","x":3219,"y":1.5},{"p":"d","s":"K","x":3227,"y":1.53},{"p":"d","s":"K","x":3235,"y":1.4},{"p":"d","s":"K","x":3243,"y":1.45},{"p":"d","s":"K","x":3251,"y":1.42},{"p":"d","s":"K","x":3259,"y":1.37},{"p":"d","s":"K","x":3268,"y":1.3},{"p":"d","s":"K","x":3276,"y":1.29},{"p":"d","s":"K","x":3284,"y":1.2},{"p":"d","s":"K","x":3292,"y":1.13},{"p":"d","s":"K","x":3300,"y":1.05},{"p":"d","s":"K","x":3308,"y":0.97},{"p":"d","s":"K","x":3316,"y":0.95},{"p":"d","s":"K","x":3324,"y":0.89},{"p":"d","s":"K","x":3332,"y":0.85},{"p":"d","s":"K","x":3341,"y":0.89},{"p":"d","s":"K","x":3349,"y":0.8},{"p":"d","s":"K","x":3357,"y":0.73},{"p":"d","s":"K","x":3365,"y":0.7},{"p":"d","s":"K","x":3373,"y":0.65},{"p":"d","s":"K","x":3381,"y":0.7},{"p":"d","s":"K","x":3389,"y":0.73},{"p":"d","s":"K","x":3397,"y":0.7},{"p":"d","s":"K","x":3405,"y":0.73},{"p":"d","s":"K","x":3413,"y":0.65},{"p":"d","s":"K","x":3422,"y":0.65},{"p":"d","s":"K","x":3430,"y":0.6},{"p":"d","s":"K","x":3438,"y":0.56},{"p":"d","s":"K","x":3446,"y":0.6},{"p":"d","s":"K","x":3454,"y":0.56},{"p":"d","s":"K","x":3462,"y":0.5},{"p":"d","s":"K","x":3470,"y":0.48},{"p":"d","s":"K","x":3478,"y":0.45},{"p":"d","s":"K","x":3486,"y":0.4},{"p":"d","s":"K","x":3494,"y":0.48},{"p":"d","s":"K","x":3503,"y":0.5},{"p":"d","s":"K","x":3511,"y":0.45},{"p":"d","s":"K","x":3519,"y":0.48},{"p":"d","s":"K","x":3527,"y":0.4},{"p":"d","s":"K","x":3535,"y":0.4},{"p":"d","s":"K","x":3543,"y":0.35},{"p":"d","s":"K","x":3551,"y":0.32},{"p":"d","s":"K","x":3559,"y":0.3},{"p":"d","s":"K","x":3568,"y":0.24},{"p":"d","s":"K","x":3576,"y":0.28},{"p":"d","s":"K","x":3584,"y":0.24},{"p":"d","s":"K","x":3592,"y":0.2},{"p":"d","s":"K","x":3600,"y":0.16},{"p":"d","s":"K","x":3608,"y":0.2},{"p":"d","s":"K","x":3616,"y":0.18},{"p":"d","s":"K","x":3624,"y":0.15},{"p":"d","s":"K","x":3632,"y":0.12},{"p":"d","s":"K","x":3640,"y":0.15},{"p":"d","s":"K","x":3649,"y":0.16},{"p":"d","s":"K","x":3657,"y":0.1},{"p":"d","s":"K","x":3665,"y":0.08},{"p":"d","s":"K","x":3673,"y":0.12},{"p":"d","s":"K","x":3681,"y":0.1},{"p":"d","s":"K","x":3692,"y":0.16},
{"p":"d","s":"R","x":2795,"y":0.24},{"p":"d","s":"R","x":2803,"y":0.3},{"p":"d","s":"R","x":2811,"y":0.32},{"p":"d","s":"R","x":2819,"y":0.4},{"p":"d","s":"R","x":2827,"y":0.48},{"p":"d","s":"R","x":2835,"y":0.42},{"p":"d","s":"R","x":2843,"y":0.8},{"p":"d","s":"R","x":2849,"y":1.53},{"p":"d","s":"R","x":2854,"y":1.55},{"p":"d","s":"R","x":2857,"y":1.45},{"p":"d","s":"R","x":2862,"y":1.05},{"p":"d","s":"R","x":2870,"y":0.65},{"p":"d","s":"R","x":2876,"y":0.45},{"p":"d","s":"R","x":2881,"y":0.32},{"p":"d","s":"R","x":2887,"y":0.25},{"p":"d","s":"R","x":2892,"y":0.2},{"p":"d","s":"R","x":2898,"y":0.25},{"p":"d","s":"R","x":2903,"y":0.32},{"p":"d","s":"R","x":2909,"y":0.55},{"p":"d","s":"R","x":2914,"y":0.73},{"p":"d","s":"R","x":2919,"y":0.85},{"p":"d","s":"R","x":2924,"y":0.85},{"p":"d","s":"R","x":2930,"y":0.7},{"p":"d","s":"R","x":2935,"y":0.56},{"p":"d","s":"R","x":2943,"y":0.35},{"p":"d","s":"R","x":2951,"y":0.16},{"p":"d","s":"R","x":2959,"y":0.2},{"p":"d","s":"R","x":2968,"y":0.24},{"p":"d","s":"R","x":2976,"y":0.12},{"p":"d","s":"R","x":2984,"y":0.08},{"p":"d","s":"R","x":2992,"y":0.2},{"p":"d","s":"R","x":3000,"y":0.2},{"p":"d","s":"R","x":3008,"y":0.1},{"p":"d","s":"R","x":3016,"y":0.08},{"p":"d","s":"R","x":3024,"y":0.2},{"p":"d","s":"R","x":3032,"y":0.2},{"p":"d","s":"R","x":3040,"y":0.1},{"p":"d","s":"R","x":3049,"y":0.12},{"p":"d","s":"R","x":3057,"y":0.22},{"p":"d","s":"R","x":3065,"y":0.24},{"p":"d","s":"R","x":3073,"y":0.1},{"p":"d","s":"R","x":3081,"y":0.08},{"p":"d","s":"R","x":3089,"y":0.18},{"p":"d","s":"R","x":3097,"y":0.16},{"p":"d","s":"R","x":3105,"y":0.25},{"p":"d","s":"R","x":3114,"y":0.2},{"p":"d","s":"R","x":3122,"y":0.1},{"p":"d","s":"R","x":3130,"y":0.08},{"p":"d","s":"R","x":3138,"y":0.2},{"p":"d","s":"R","x":3146,"y":0.16},{"p":"d","s":"R","x":3154,"y":0.1},{"p":"d","s":"R","x":3162,"y":0.24},{"p":"d","s":"R","x":3170,"y":0.3},{"p":"d","s":"R","x":3178,"y":0.12},{"p":"d","s":"R","x":3186,"y":0.2},{"p":"d","s":"R","x":3195,"y":0.2},{"p":"d","s":"R","x":3203,"y":0.1},{"p":"d","s":"R","x":3211,"y":0.08},{"p":"d","s":"R","x":3219,"y":0.2},{"p":"d","s":"R","x":3227,"y":0.16},{"p":"d","s":"R","x":3235,"y":0.28},{"p":"d","s":"R","x":3243,"y":0.24},{"p":"d","s":"R","x":3251,"y":0.1},{"p":"d","s":"R","x":3259,"y":0.08},{"p":"d","s":"R","x":3268,"y":0.2},{"p":"d","s":"R","x":3276,"y":0.16},{"p":"d","s":"R","x":3284,"y":0.1},{"p":"d","s":"R","x":3292,"y":0.08},{"p":"d","s":"R","x":3300,"y":0.2},{"p":"d","s":"R","x":3308,"y":0.24},{"p":"d","s":"R","x":3316,"y":0.1},{"p":"d","s":"R","x":3324,"y":0.08},{"p":"d","s":"R","x":3332,"y":0.2},{"p":"d","s":"R","x":3341,"y":0.16},{"p":"d","s":"R","x":3349,"y":0.25},{"p":"d","s":"R","x":3357,"y":0.08},{"p":"d","s":"R","x":3365,"y":0.12},{"p":"d","s":"R","x":3373,"y":0.12},{"p":"d","s":"R","x":3381,"y":0.2},{"p":"d","s":"R","x":3389,"y":0.24},{"p":"d","s":"R","x":3397,"y":0.1},{"p":"d","s":"R","x":3405,"y":0.08},{"p":"d","s":"R","x":3413,"y":0.2},{"p":"d","s":"R","x":3422,"y":0.16},{"p":"d","s":"R","x":3430,"y":0.1},{"p":"d","s":"R","x":3438,"y":0.08},{"p":"d","s":"R","x":3446,"y":0.2},{"p":"d","s":"R","x":3454,"y":0.2},{"p":"d","s":"R","x":3462,"y":0.08},{"p":"d","s":"R","x":3470,"y":0.04},{"p":"d","s":"R","x":3478,"y":0.16},{"p":"d","s":"R","x":3486,"y":0.16},{"p":"d","s":"R","x":3494,"y":0.1},{"p":"d","s":"R","x":3503,"y":0.08},{"p":"d","s":"R","x":3511,"y":0.2},{"p":"d","s":"R","x":3519,"y":0.12},{"p":"d","s":"R","x":3527,"y":0.08},{"p":"d","s":"R","x":3535,"y":0.04},{"p":"d","s":"R","x":3543,"y":0.16},{"p":"d","s":"R","x":3551,"y":0.16},{"p":"d","s":"R","x":3559,"y":0.05},{"p":"d","s":"R","x":3568,"y":0.04},{"p":"d","s":"R","x":3576,"y":0.12},{"p":"d","s":"R","x":3584,"y":0.08},{"p":"d","s":"R","x":3592,"y":0.0},{"p":"d","s":"R","x":3600,"y":-0.08},{"p":"d","s":"R","x":3608,"y":0.05},{"p":"d","s":"R","x":3616,"y":0.08},{"p":"d","s":"R","x":3624,"y":0.0},{"p":"d","s":"R","x":3632,"y":0.0},{"p":"d","s":"R","x":3640,"y":0.1},{"p":"d","s":"R","x":3649,"y":0.08},{"p":"d","s":"R","x":3657,"y":0.0},{"p":"d","s":"R","x":3665,"y":0.0},{"p":"d","s":"R","x":3673,"y":0.08},{"p":"d","s":"R","x":3681,"y":0.08},{"p":"d","s":"R","x":3692,"y":-0.04},
{"p":"e","s":"B","x":2787,"y":0.94},{"p":"e","s":"B","x":2792,"y":1.2},{"p":"e","s":"B","x":2797,"y":1.15},{"p":"e","s":"B","x":2802,"y":1.4},{"p":"e","s":"B","x":2807,"y":1.35},{"p":"e","s":"B","x":2812,"y":1.45},{"p":"e","s":"B","x":2818,"y":1.42},{"p":"e","s":"B","x":2823,"y":1.5},{"p":"e","s":"B","x":2828,"y":1.65},{"p":"e","s":"B","x":2832,"y":2.1},{"p":"e","s":"B","x":2835,"y":2.48},{"p":"e","s":"B","x":2839,"y":3.1},{"p":"e","s":"B","x":2843,"y":3.56},{"p":"e","s":"B","x":2846,"y":3.6},{"p":"e","s":"B","x":2849,"y":3.5},{"p":"e","s":"B","x":2852,"y":3.0},{"p":"e","s":"B","x":2856,"y":2.35},{"p":"e","s":"B","x":2860,"y":1.7},{"p":"e","s":"B","x":2865,"y":1.07},{"p":"e","s":"B","x":2870,"y":0.8},{"p":"e","s":"B","x":2876,"y":0.63},{"p":"e","s":"B","x":2881,"y":0.5},{"p":"e","s":"B","x":2886,"y":0.5},{"p":"e","s":"B","x":2891,"y":0.6},{"p":"e","s":"B","x":2897,"y":0.82},{"p":"e","s":"B","x":2902,"y":1.1},{"p":"e","s":"B","x":2908,"y":1.45},{"p":"e","s":"B","x":2913,"y":1.55},{"p":"e","s":"B","x":2917,"y":1.7},{"p":"e","s":"B","x":2922,"y":1.65},{"p":"e","s":"B","x":2927,"y":1.6},{"p":"e","s":"B","x":2932,"y":1.45},{"p":"e","s":"B","x":2937,"y":1.1},{"p":"e","s":"B","x":2941,"y":0.82},{"p":"e","s":"B","x":2946,"y":0.6},{"p":"e","s":"B","x":2951,"y":0.43},{"p":"e","s":"B","x":2957,"y":0.5},{"p":"e","s":"B","x":2962,"y":0.56},{"p":"e","s":"B","x":2968,"y":0.5},{"p":"e","s":"B","x":2973,"y":0.65},{"p":"e","s":"B","x":2978,"y":0.58},{"p":"e","s":"B","x":2984,"y":0.55},{"p":"e","s":"B","x":2992,"y":0.75},{"p":"e","s":"B","x":3000,"y":0.9},{"p":"e","s":"B","x":3008,"y":1.05},{"p":"e","s":"B","x":3016,"y":1.0},{"p":"e","s":"B","x":3024,"y":1.25},{"p":"e","s":"B","x":3032,"y":1.15},{"p":"e","s":"B","x":3040,"y":1.38},{"p":"e","s":"B","x":3048,"y":1.3},{"p":"e","s":"B","x":3056,"y":1.55},{"p":"e","s":"B","x":3064,"y":1.6},{"p":"e","s":"B","x":3072,"y":1.72},{"p":"e","s":"B","x":3080,"y":1.68},{"p":"e","s":"B","x":3088,"y":1.9},{"p":"e","s":"B","x":3096,"y":1.8},{"p":"e","s":"B","x":3104,"y":1.92},{"p":"e","s":"B","x":3112,"y":1.75},{"p":"e","s":"B","x":3120,"y":1.96},{"p":"e","s":"B","x":3128,"y":1.85},{"p":"e","s":"B","x":3136,"y":1.97},{"p":"e","s":"B","x":3144,"y":1.9},{"p":"e","s":"B","x":3152,"y":2.02},{"p":"e","s":"B","x":3160,"y":1.95},{"p":"e","s":"B","x":3168,"y":2.01},{"p":"e","s":"B","x":3176,"y":1.93},{"p":"e","s":"B","x":3184,"y":2.02},{"p":"e","s":"B","x":3192,"y":1.95},{"p":"e","s":"B","x":3200,"y":1.97},{"p":"e","s":"B","x":3208,"y":1.87},{"p":"e","s":"B","x":3216,"y":1.82},{"p":"e","s":"B","x":3224,"y":1.84},{"p":"e","s":"B","x":3232,"y":1.72},{"p":"e","s":"B","x":3240,"y":1.7},{"p":"e","s":"B","x":3248,"y":1.6},{"p":"e","s":"B","x":3256,"y":1.57},{"p":"e","s":"B","x":3264,"y":1.5},{"p":"e","s":"B","x":3272,"y":1.45},{"p":"e","s":"B","x":3280,"y":1.38},{"p":"e","s":"B","x":3288,"y":1.33},{"p":"e","s":"B","x":3296,"y":1.25},{"p":"e","s":"B","x":3304,"y":1.2},{"p":"e","s":"B","x":3312,"y":1.12},{"p":"e","s":"B","x":3320,"y":1.07},{"p":"e","s":"B","x":3328,"y":1.03},{"p":"e","s":"B","x":3336,"y":1.0},{"p":"e","s":"B","x":3344,"y":0.95},{"p":"e","s":"B","x":3352,"y":0.96},{"p":"e","s":"B","x":3360,"y":0.9},{"p":"e","s":"B","x":3368,"y":0.9},{"p":"e","s":"B","x":3376,"y":0.85},{"p":"e","s":"B","x":3384,"y":0.84},{"p":"e","s":"B","x":3392,"y":0.82},{"p":"e","s":"B","x":3400,"y":0.78},{"p":"e","s":"B","x":3408,"y":0.8},{"p":"e","s":"B","x":3416,"y":0.76},{"p":"e","s":"B","x":3424,"y":0.74},{"p":"e","s":"B","x":3432,"y":0.76},{"p":"e","s":"B","x":3440,"y":0.71},{"p":"e","s":"B","x":3448,"y":0.7},{"p":"e","s":"B","x":3456,"y":0.7},{"p":"e","s":"B","x":3464,"y":0.63},{"p":"e","s":"B","x":3472,"y":0.6},{"p":"e","s":"B","x":3480,"y":0.56},{"p":"e","s":"B","x":3488,"y":0.52},{"p":"e","s":"B","x":3496,"y":0.5},{"p":"e","s":"B","x":3504,"y":0.44},{"p":"e","s":"B","x":3512,"y":0.38},{"p":"e","s":"B","x":3520,"y":0.35},{"p":"e","s":"B","x":3528,"y":0.31},{"p":"e","s":"B","x":3536,"y":0.27},{"p":"e","s":"B","x":3544,"y":0.24},{"p":"e","s":"B","x":3552,"y":0.2},{"p":"e","s":"B","x":3560,"y":0.18},{"p":"e","s":"B","x":3570,"y":0.15},{"p":"e","s":"B","x":3580,"y":0.15},{"p":"e","s":"B","x":3590,"y":0.12},{"p":"e","s":"B","x":3600,"y":0.15},{"p":"e","s":"B","x":3610,"y":0.1},{"p":"e","s":"B","x":3620,"y":0.12},{"p":"e","s":"B","x":3630,"y":0.08},{"p":"e","s":"B","x":3640,"y":0.1},{"p":"e","s":"B","x":3650,"y":0.08},{"p":"e","s":"B","x":3660,"y":0.1},{"p":"e","s":"B","x":3670,"y":0.06},{"p":"e","s":"B","x":3680,"y":0.08},{"p":"e","s":"B","x":3690,"y":0.06},
{"p":"e","s":"K","x":2789,"y":0.15},{"p":"e","s":"K","x":2795,"y":0.12},{"p":"e","s":"K","x":2800,"y":0.2},{"p":"e","s":"K","x":2806,"y":0.18},{"p":"e","s":"K","x":2811,"y":0.25},{"p":"e","s":"K","x":2816,"y":0.3},{"p":"e","s":"K","x":2822,"y":0.35},{"p":"e","s":"K","x":2827,"y":0.31},{"p":"e","s":"K","x":2832,"y":0.45},{"p":"e","s":"K","x":2838,"y":0.5},{"p":"e","s":"K","x":2843,"y":0.55},{"p":"e","s":"K","x":2849,"y":0.59},{"p":"e","s":"K","x":2854,"y":0.55},{"p":"e","s":"K","x":2859,"y":0.5},{"p":"e","s":"K","x":2865,"y":0.4},{"p":"e","s":"K","x":2870,"y":0.31},{"p":"e","s":"K","x":2876,"y":0.25},{"p":"e","s":"K","x":2881,"y":0.2},{"p":"e","s":"K","x":2886,"y":0.18},{"p":"e","s":"K","x":2892,"y":0.22},{"p":"e","s":"K","x":2897,"y":0.3},{"p":"e","s":"K","x":2903,"y":0.24},{"p":"e","s":"K","x":2908,"y":0.25},{"p":"e","s":"K","x":2913,"y":0.3},{"p":"e","s":"K","x":2919,"y":0.27},{"p":"e","s":"K","x":2924,"y":0.2},{"p":"e","s":"K","x":2930,"y":0.15},{"p":"e","s":"K","x":2935,"y":0.15},{"p":"e","s":"K","x":2941,"y":0.12},{"p":"e","s":"K","x":2946,"y":0.1},{"p":"e","s":"K","x":2951,"y":0.08},{"p":"e","s":"K","x":2957,"y":0.12},{"p":"e","s":"K","x":2962,"y":0.1},{"p":"e","s":"K","x":2968,"y":0.11},{"p":"e","s":"K","x":2976,"y":0.15},{"p":"e","s":"K","x":2984,"y":0.18},{"p":"e","s":"K","x":2992,"y":0.2},{"p":"e","s":"K","x":3000,"y":0.24},{"p":"e","s":"K","x":3008,"y":0.3},{"p":"e","s":"K","x":3016,"y":0.31},{"p":"e","s":"K","x":3024,"y":0.35},{"p":"e","s":"K","x":3032,"y":0.37},{"p":"e","s":"K","x":3040,"y":0.45},{"p":"e","s":"K","x":3049,"y":0.43},{"p":"e","s":"K","x":3057,"y":0.5},{"p":"e","s":"K","x":3065,"y":0.5},{"p":"e","s":"K","x":3073,"y":0.55},{"p":"e","s":"K","x":3081,"y":0.56},{"p":"e","s":"K","x":3089,"y":0.6},{"p":"e","s":"K","x":3097,"y":0.63},{"p":"e","s":"K","x":3105,"y":0.7},{"p":"e","s":"K","x":3114,"y":0.72},{"p":"e","s":"K","x":3122,"y":0.75},{"p":"e","s":"K","x":3130,"y":0.82},{"p":"e","s":"K","x":3138,"y":0.8},{"p":"e","s":"K","x":3146,"y":0.88},{"p":"e","s":"K","x":3154,"y":0.95},{"p":"e","s":"K","x":3162,"y":1.01},{"p":"e","s":"K","x":3170,"y":0.95},{"p":"e","s":"K","x":3178,"y":1.01},{"p":"e","s":"K","x":3186,"y":1.05},{"p":"e","s":"K","x":3195,"y":1.07},{"p":"e","s":"K","x":3203,"y":1.0},{"p":"e","s":"K","x":3211,"y":1.01},{"p":"e","s":"K","x":3219,"y":1.08},{"p":"e","s":"K","x":3227,"y":1.14},{"p":"e","s":"K","x":3235,"y":1.05},{"p":"e","s":"K","x":3243,"y":1.17},{"p":"e","s":"K","x":3249,"y":1.1},{"p":"e","s":"K","x":3254,"y":1.2},{"p":"e","s":"K","x":3260,"y":1.05},{"p":"e","s":"K","x":3265,"y":1.12},{"p":"e","s":"K","x":3270,"y":1.0},{"p":"e","s":"K","x":3276,"y":1.01},{"p":"e","s":"K","x":3284,"y":0.9},{"p":"e","s":"K","x":3292,"y":0.75},{"p":"e","s":"K","x":3300,"y":0.7},{"p":"e","s":"K","x":3308,"y":0.63},{"p":"e","s":"K","x":3316,"y":0.6},{"p":"e","s":"K","x":3324,"y":0.56},{"p":"e","s":"K","x":3332,"y":0.5},{"p":"e","s":"K","x":3341,"y":0.43},{"p":"e","s":"K","x":3349,"y":0.4},{"p":"e","s":"K","x":3357,"y":0.37},{"p":"e","s":"K","x":3365,"y":0.4},{"p":"e","s":"K","x":3373,"y":0.36},{"p":"e","s":"K","x":3381,"y":0.35},{"p":"e","s":"K","x":3389,"y":0.34},{"p":"e","s":"K","x":3397,"y":0.38},{"p":"e","s":"K","x":3405,"y":0.36},{"p":"e","s":"K","x":3413,"y":0.32},{"p":"e","s":"K","x":3422,"y":0.31},{"p":"e","s":"K","x":3430,"y":0.36},{"p":"e","s":"K","x":3438,"y":0.36},{"p":"e","s":"K","x":3446,"y":0.3},{"p":"e","s":"K","x":3454,"y":0.28},{"p":"e","s":"K","x":3462,"y":0.35},{"p":"e","s":"K","x":3470,"y":0.3},{"p":"e","s":"K","x":3478,"y":0.34},{"p":"e","s":"K","x":3486,"y":0.36},{"p":"e","s":"K","x":3494,"y":0.3},{"p":"e","s":"K","x":3503,"y":0.33},{"p":"e","s":"K","x":3511,"y":0.28},{"p":"e","s":"K","x":3519,"y":0.24},{"p":"e","s":"K","x":3527,"y":0.25},{"p":"e","s":"K","x":3535,"y":0.22},{"p":"e","s":"K","x":3543,"y":0.2},{"p":"e","s":"K","x":3551,"y":0.18},{"p":"e","s":"K","x":3559,"y":0.16},{"p":"e","s":"K","x":3568,"y":0.15},{"p":"e","s":"K","x":3578,"y":0.12},{"p":"e","s":"K","x":3589,"y":0.1},{"p":"e","s":"K","x":3600,"y":0.08},{"p":"e","s":"K","x":3611,"y":0.07},{"p":"e","s":"K","x":3622,"y":0.06},{"p":"e","s":"K","x":3633,"y":0.08},{"p":"e","s":"K","x":3643,"y":0.05},{"p":"e","s":"K","x":3654,"y":0.06},{"p":"e","s":"K","x":3665,"y":0.04},{"p":"e","s":"K","x":3676,"y":0.05},{"p":"e","s":"K","x":3690,"y":0.04},
{"p":"e","s":"E","x":2789,"y":0.18},{"p":"e","s":"E","x":2795,"y":0.1},{"p":"e","s":"E","x":2800,"y":0.08},{"p":"e","s":"E","x":2806,"y":0.15},{"p":"e","s":"E","x":2811,"y":0.24},{"p":"e","s":"E","x":2816,"y":0.3},{"p":"e","s":"E","x":2822,"y":0.35},{"p":"e","s":"E","x":2827,"y":0.43},{"p":"e","s":"E","x":2832,"y":0.5},{"p":"e","s":"E","x":2838,"y":0.55},{"p":"e","s":"E","x":2843,"y":0.6},{"p":"e","s":"E","x":2846,"y":0.63},{"p":"e","s":"E","x":2850,"y":0.58},{"p":"e","s":"E","x":2854,"y":0.5},{"p":"e","s":"E","x":2859,"y":0.42},{"p":"e","s":"E","x":2865,"y":0.31},{"p":"e","s":"E","x":2870,"y":0.22},{"p":"e","s":"E","x":2876,"y":0.18},{"p":"e","s":"E","x":2881,"y":0.15},{"p":"e","s":"E","x":2886,"y":0.18},{"p":"e","s":"E","x":2892,"y":0.22},{"p":"e","s":"E","x":2897,"y":0.24},{"p":"e","s":"E","x":2903,"y":0.28},{"p":"e","s":"E","x":2908,"y":0.3},{"p":"e","s":"E","x":2914,"y":0.31},{"p":"e","s":"E","x":2919,"y":0.36},{"p":"e","s":"E","x":2924,"y":0.37},{"p":"e","s":"E","x":2930,"y":0.3},{"p":"e","s":"E","x":2935,"y":0.22},{"p":"e","s":"E","x":2941,"y":0.18},{"p":"e","s":"E","x":2946,"y":0.12},{"p":"e","s":"E","x":2951,"y":0.1},{"p":"e","s":"E","x":2957,"y":0.08},{"p":"e","s":"E","x":2962,"y":0.12},{"p":"e","s":"E","x":2968,"y":0.1},{"p":"e","s":"E","x":2973,"y":0.14},{"p":"e","s":"E","x":2980,"y":0.08},{"p":"e","s":"E","x":2988,"y":0.12},{"p":"e","s":"E","x":2996,"y":0.1},{"p":"e","s":"E","x":3004,"y":0.06},{"p":"e","s":"E","x":3012,"y":0.12},{"p":"e","s":"E","x":3020,"y":0.1},{"p":"e","s":"E","x":3028,"y":0.05},{"p":"e","s":"E","x":3036,"y":0.12},{"p":"e","s":"E","x":3044,"y":0.15},{"p":"e","s":"E","x":3052,"y":0.08},{"p":"e","s":"E","x":3060,"y":0.05},{"p":"e","s":"E","x":3068,"y":0.12},{"p":"e","s":"E","x":3076,"y":0.1},{"p":"e","s":"E","x":3084,"y":0.04},{"p":"e","s":"E","x":3092,"y":0.08},{"p":"e","s":"E","x":3100,"y":0.14},{"p":"e","s":"E","x":3108,"y":0.1},{"p":"e","s":"E","x":3116,"y":0.03},{"p":"e","s":"E","x":3124,"y":0.08},{"p":"e","s":"E","x":3132,"y":0.12},{"p":"e","s":"E","x":3140,"y":0.05},{"p":"e","s":"E","x":3148,"y":0.02},{"p":"e","s":"E","x":3156,"y":0.1},{"p":"e","s":"E","x":3164,"y":0.12},{"p":"e","s":"E","x":3172,"y":0.08},{"p":"e","s":"E","x":3180,"y":0.14},{"p":"e","s":"E","x":3188,"y":0.18},{"p":"e","s":"E","x":3196,"y":0.12},{"p":"e","s":"E","x":3204,"y":0.08},{"p":"e","s":"E","x":3212,"y":0.04},{"p":"e","s":"E","x":3220,"y":0.1},{"p":"e","s":"E","x":3228,"y":0.14},{"p":"e","s":"E","x":3236,"y":0.06},{"p":"e","s":"E","x":3244,"y":0.02},{"p":"e","s":"E","x":3252,"y":0.08},{"p":"e","s":"E","x":3260,"y":0.12},{"p":"e","s":"E","x":3268,"y":0.05},{"p":"e","s":"E","x":3276,"y":0.1},{"p":"e","s":"E","x":3284,"y":0.15},{"p":"e","s":"E","x":3292,"y":0.09},{"p":"e","s":"E","x":3300,"y":0.05},{"p":"e","s":"E","x":3308,"y":0.12},{"p":"e","s":"E","x":3316,"y":0.1},{"p":"e","s":"E","x":3324,"y":0.04},{"p":"e","s":"E","x":3332,"y":0.08},{"p":"e","s":"E","x":3340,"y":0.12},{"p":"e","s":"E","x":3348,"y":0.06},{"p":"e","s":"E","x":3356,"y":0.03},{"p":"e","s":"E","x":3364,"y":0.1},{"p":"e","s":"E","x":3372,"y":0.12},{"p":"e","s":"E","x":3380,"y":0.05},{"p":"e","s":"E","x":3388,"y":0.1},{"p":"e","s":"E","x":3396,"y":0.14},{"p":"e","s":"E","x":3404,"y":0.08},{"p":"e","s":"E","x":3412,"y":0.03},{"p":"e","s":"E","x":3420,"y":0.08},{"p":"e","s":"E","x":3428,"y":0.06},{"p":"e","s":"E","x":3436,"y":0.0},{"p":"e","s":"E","x":3444,"y":0.05},{"p":"e","s":"E","x":3452,"y":0.02},{"p":"e","s":"E","x":3460,"y":-0.02},{"p":"e","s":"E","x":3468,"y":0.04},{"p":"e","s":"E","x":3476,"y":-0.04},{"p":"e","s":"E","x":3484,"y":0.02},{"p":"e","s":"E","x":3492,"y":-0.05},{"p":"e","s":"E","x":3500,"y":0.03},{"p":"e","s":"E","x":3508,"y":0.06},{"p":"e","s":"E","x":3516,"y":0.02},{"p":"e","s":"E","x":3524,"y":0.08},{"p":"e","s":"E","x":3532,"y":0.04},{"p":"e","s":"E","x":3540,"y":0.1},{"p":"e","s":"E","x":3548,"y":0.05},{"p":"e","s":"E","x":3556,"y":0.0},{"p":"e","s":"E","x":3564,"y":0.06},{"p":"e","s":"E","x":3572,"y":0.08},{"p":"e","s":"E","x":3580,"y":0.02},{"p":"e","s":"E","x":3588,"y":0.05},{"p":"e","s":"E","x":3596,"y":0.1},{"p":"e","s":"E","x":3604,"y":0.04},{"p":"e","s":"E","x":3612,"y":0.0},{"p":"e","s":"E","x":3620,"y":0.06},{"p":"e","s":"E","x":3628,"y":0.08},{"p":"e","s":"E","x":3636,"y":0.02},{"p":"e","s":"E","x":3644,"y":0.05},{"p":"e","s":"E","x":3652,"y":0.08},{"p":"e","s":"E","x":3660,"y":0.02},{"p":"e","s":"E","x":3668,"y":0.06},{"p":"e","s":"E","x":3676,"y":0.04},{"p":"e","s":"E","x":3690,"y":0.07}
]
},
"vconcat": [
 {"vconcat": [
   {"hconcat": [
     {"width": 304, "height": 212,
      "encoding": {"x": {"field": "x", "type": "quantitative", "scale": {"domain": [2762, 3716], "nice": false, "zero": false}, "axis": {"values": [2800,3000,3200,3400,3600], "title": "wavenumber (cm⁻¹)"}},
                   "y": {"field": "y", "type": "quantitative", "scale": {"domain": [0, 7], "nice": false, "zero": false}, "axis": {"values": [0,1,2,3,4,5,6,7], "title": "intensity (arbitrary units)", "titlePadding": 12}}},
      "layer": [
        {"data": {"name": "L"}, "transform": [{"filter": "datum.p=='a'&&datum.s=='B'"}], "mark": {"type": "line", "color": "#1f1fef", "strokeWidth": 1.3, "clip": true}},
        {"data": {"name": "L"}, "transform": [{"filter": "datum.p=='a'&&datum.s=='K'"}], "mark": {"type": "line", "color": "#141414", "strokeWidth": 1.3, "clip": true}},
        {"data": {"name": "L"}, "transform": [{"filter": "datum.p=='a'&&datum.s=='R'"}], "mark": {"type": "line", "color": "#8e1c22", "strokeWidth": 1.3, "clip": true}},
        {"data": {"name": "R"}, "transform": [{"filter": "datum.p=='a'"}], "mark": {"type": "rule", "strokeWidth": 1.5}, "encoding": {"x2": {"field": "x2"}, "y2": {"field": "y2"}, "color": {"field": "s", "type": "nominal", "scale": {"domain": ["B","K","R","E"], "range": ["#1f1fef","#141414","#8e1c22","#d0161e"]}, "legend": null}}},
        {"data": {"name": "T"}, "transform": [{"filter": "datum.p=='a'&&datum.s!='G'&&datum.s!='T'"}], "mark": {"type": "text"}, "encoding": {"text": {"field": "t"}, "color": {"field": "s", "type": "nominal", "scale": {"domain": ["B","K","R","E"], "range": ["#1f1fef","#141414","#8e1c22","#d0161e"]}, "legend": null}}},
        {"data": {"name": "T"}, "transform": [{"filter": "datum.p=='a'&&datum.s=='G'"}], "mark": {"type": "text", "color": "#23882a", "fontWeight": "bold", "fontStyle": "italic"}, "encoding": {"text": {"field": "t"}}},
        {"data": {"name": "T"}, "transform": [{"filter": "datum.p=='a'&&datum.s=='T'"}], "mark": {"type": "text", "color": "#000", "fontSize": 18.5}, "encoding": {"text": {"field": "t"}}}
      ]},
     {"vconcat": [
       {"width": 1, "height": 1, "view": {"stroke": null}, "data": {"values": []}, "mark": "point"},
       {"width": 294, "height": 206,
        "encoding": {"x": {"field": "x", "type": "quantitative", "scale": {"domain": [2761, 3709], "nice": false, "zero": false}, "axis": {"values": [2800,3000,3200,3400,3600], "title": "wavenumber (cm⁻¹)"}},
                     "y": {"field": "y", "type": "quantitative", "scale": {"domain": [0, 2.5], "nice": false, "zero": false}, "axis": {"values": [0,1,2], "title": "intensity (arbitrary units)", "titlePadding": 22}}},
        "layer": [
          {"data": {"name": "L"}, "transform": [{"filter": "datum.p=='b'&&datum.s=='B'"}], "mark": {"type": "line", "color": "#1f1fef", "strokeWidth": 1.3, "clip": true}},
          {"data": {"name": "L"}, "transform": [{"filter": "datum.p=='b'&&datum.s=='K'"}], "mark": {"type": "line", "color": "#141414", "strokeWidth": 1.3, "clip": true}},
          {"data": {"name": "L"}, "transform": [{"filter": "datum.p=='b'&&datum.s=='R'"}], "mark": {"type": "line", "color": "#8e1c22", "strokeWidth": 1.3, "clip": true}},
          {"data": {"name": "R"}, "transform": [{"filter": "datum.p=='b'"}], "mark": {"type": "rule", "strokeWidth": 1.5}, "encoding": {"x2": {"field": "x2"}, "y2": {"field": "y2"}, "color": {"field": "s", "type": "nominal", "scale": {"domain": ["B","K","R","E"], "range": ["#1f1fef","#141414","#8e1c22","#d0161e"]}, "legend": null}}},
          {"data": {"name": "T"}, "transform": [{"filter": "datum.p=='b'&&datum.s!='G'&&datum.s!='T'"}], "mark": {"type": "text"}, "encoding": {"text": {"field": "t"}, "color": {"field": "s", "type": "nominal", "scale": {"domain": ["B","K","R","E"], "range": ["#1f1fef","#141414","#8e1c22","#d0161e"]}, "legend": null}}},
          {"data": {"name": "T"}, "transform": [{"filter": "datum.p=='b'&&datum.s=='G'"}], "mark": {"type": "text", "color": "#23882a", "fontWeight": "bold", "fontStyle": "italic"}, "encoding": {"text": {"field": "t"}}},
          {"data": {"name": "T"}, "transform": [{"filter": "datum.p=='b'&&datum.s=='T'"}], "mark": {"type": "text", "color": "#000", "fontSize": 18.5}, "encoding": {"text": {"field": "t"}}}
        ]}
     ], "spacing": 5.5}
   ], "spacing": 8.7},
   {"hconcat": [
     {"vconcat": [
       {"width": 1, "height": 1, "view": {"stroke": null}, "data": {"values": []}, "mark": "point"},
       {"width": 295, "height": 206,
        "encoding": {"x": {"field": "x", "type": "quantitative", "scale": {"domain": [2758, 3689], "nice": false, "zero": false}, "axis": {"values": [2800,3000,3200,3400,3600], "title": "wavenumber (cm⁻¹)"}},
                     "y": {"field": "y", "type": "quantitative", "scale": {"domain": [-0.02, 3.15], "nice": false, "zero": false}, "axis": {"values": [0,1,2,3], "title": "intensity (arbitrary units)", "titlePadding": 21}}},
        "layer": [
          {"data": {"name": "L"}, "transform": [{"filter": "datum.p=='c'&&datum.s=='B'"}], "mark": {"type": "line", "color": "#1f1fef", "strokeWidth": 1.3, "clip": true}},
          {"data": {"name": "L"}, "transform": [{"filter": "datum.p=='c'&&datum.s=='K'"}], "mark": {"type": "line", "color": "#141414", "strokeWidth": 1.3, "clip": true}},
          {"data": {"name": "L"}, "transform": [{"filter": "datum.p=='c'&&datum.s=='R'"}], "mark": {"type": "line", "color": "#8e1c22", "strokeWidth": 1.3, "clip": true}},
          {"data": {"name": "R"}, "transform": [{"filter": "datum.p=='c'"}], "mark": {"type": "rule", "strokeWidth": 1.5}, "encoding": {"x2": {"field": "x2"}, "y2": {"field": "y2"}, "color": {"field": "s", "type": "nominal", "scale": {"domain": ["B","K","R","E"], "range": ["#1f1fef","#141414","#8e1c22","#d0161e"]}, "legend": null}}},
          {"data": {"name": "T"}, "transform": [{"filter": "datum.p=='c'&&datum.s!='G'&&datum.s!='T'"}], "mark": {"type": "text"}, "encoding": {"text": {"field": "t"}, "color": {"field": "s", "type": "nominal", "scale": {"domain": ["B","K","R","E"], "range": ["#1f1fef","#141414","#8e1c22","#d0161e"]}, "legend": null}}},
          {"data": {"name": "T"}, "transform": [{"filter": "datum.p=='c'&&datum.s=='G'"}], "mark": {"type": "text", "color": "#23882a", "fontWeight": "bold", "fontStyle": "italic"}, "encoding": {"text": {"field": "t"}}},
          {"data": {"name": "T"}, "transform": [{"filter": "datum.p=='c'&&datum.s=='T'"}], "mark": {"type": "text", "color": "#000", "fontSize": 18.5}, "encoding": {"text": {"field": "t"}}}
        ]}
     ], "spacing": 1.5},
     {"width": 303, "height": 210,
      "encoding": {"x": {"field": "x", "type": "quantitative", "scale": {"domain": [2746, 3727], "nice": false, "zero": false}, "axis": {"values": [2800,3000,3200,3400,3600], "title": "wavenumber (cm⁻¹)"}},
                   "y": {"field": "y", "type": "quantitative", "scale": {"domain": [-0.15, 5.0], "nice": false, "zero": false}, "axis": {"values": [0,1,2,3,4,5], "title": "intensity (arbitrary units)", "titlePadding": 13}}},
      "layer": [
        {"data": {"name": "L"}, "transform": [{"filter": "datum.p=='d'&&datum.s=='B'"}], "mark": {"type": "line", "color": "#1f1fef", "strokeWidth": 1.3, "clip": true}},
        {"data": {"name": "L"}, "transform": [{"filter": "datum.p=='d'&&datum.s=='K'"}], "mark": {"type": "line", "color": "#141414", "strokeWidth": 1.3, "clip": true}},
        {"data": {"name": "L"}, "transform": [{"filter": "datum.p=='d'&&datum.s=='R'"}], "mark": {"type": "line", "color": "#8e1c22", "strokeWidth": 1.3, "clip": true}},
        {"data": {"name": "R"}, "transform": [{"filter": "datum.p=='d'"}], "mark": {"type": "rule", "strokeWidth": 1.5}, "encoding": {"x2": {"field": "x2"}, "y2": {"field": "y2"}, "color": {"field": "s", "type": "nominal", "scale": {"domain": ["B","K","R","E"], "range": ["#1f1fef","#141414","#8e1c22","#d0161e"]}, "legend": null}}},
        {"data": {"name": "T"}, "transform": [{"filter": "datum.p=='d'&&datum.s!='G'&&datum.s!='T'"}], "mark": {"type": "text"}, "encoding": {"text": {"field": "t"}, "color": {"field": "s", "type": "nominal", "scale": {"domain": ["B","K","R","E"], "range": ["#1f1fef","#141414","#8e1c22","#d0161e"]}, "legend": null}}},
        {"data": {"name": "T"}, "transform": [{"filter": "datum.p=='d'&&datum.s=='T'"}], "mark": {"type": "text", "color": "#000", "fontSize": 18.5}, "encoding": {"text": {"field": "t"}}}
      ]}
   ], "spacing": 9.7}
 ], "spacing": 9.5},
 {"width": 298, "height": 210,
  "encoding": {"x": {"field": "x", "type": "quantitative", "scale": {"domain": [2751, 3717], "nice": false, "zero": false}, "axis": {"values": [2800,3000,3200,3400,3600], "title": "wavenumber (cm⁻¹)"}},
               "y": {"field": "y", "type": "quantitative", "scale": {"domain": [-0.14, 3.87], "nice": false, "zero": false}, "axis": {"values": [0,1,2,3], "title": "intensity (arbitrary units)", "titlePadding": 11}}},
  "layer": [
    {"data": {"name": "L"}, "transform": [{"filter": "datum.p=='e'&&datum.s=='B'"}], "mark": {"type": "line", "color": "#1f1fef", "strokeWidth": 1.3, "clip": true}},
    {"data": {"name": "L"}, "transform": [{"filter": "datum.p=='e'&&datum.s=='K'"}], "mark": {"type": "line", "color": "#141414", "strokeWidth": 1.3, "clip": true}},
    {"data": {"name": "L"}, "transform": [{"filter": "datum.p=='e'&&datum.s=='E'"}], "mark": {"type": "line", "color": "#d0161e", "strokeWidth": 1.3, "clip": true}},
    {"data": {"name": "R"}, "transform": [{"filter": "datum.p=='e'"}], "mark": {"type": "rule", "strokeWidth": 1.5}, "encoding": {"x2": {"field": "x2"}, "y2": {"field": "y2"}, "color": {"field": "s", "type": "nominal", "scale": {"domain": ["B","K","R","E"], "range": ["#1f1fef","#141414","#8e1c22","#d0161e"]}, "legend": null}}},
    {"data": {"name": "T"}, "transform": [{"filter": "datum.p=='e'&&datum.s!='G'&&datum.s!='T'"}], "mark": {"type": "text"}, "encoding": {"text": {"field": "t"}, "color": {"field": "s", "type": "nominal", "scale": {"domain": ["B","K","R","E"], "range": ["#1f1fef","#141414","#8e1c22","#d0161e"]}, "legend": null}}},
    {"data": {"name": "T"}, "transform": [{"filter": "datum.p=='e'&&datum.s=='T'"}], "mark": {"type": "text", "color": "#000", "fontSize": 18.5}, "encoding": {"text": {"field": "t"}}}
  ]}
],
"spacing": 42, "center": true
}
